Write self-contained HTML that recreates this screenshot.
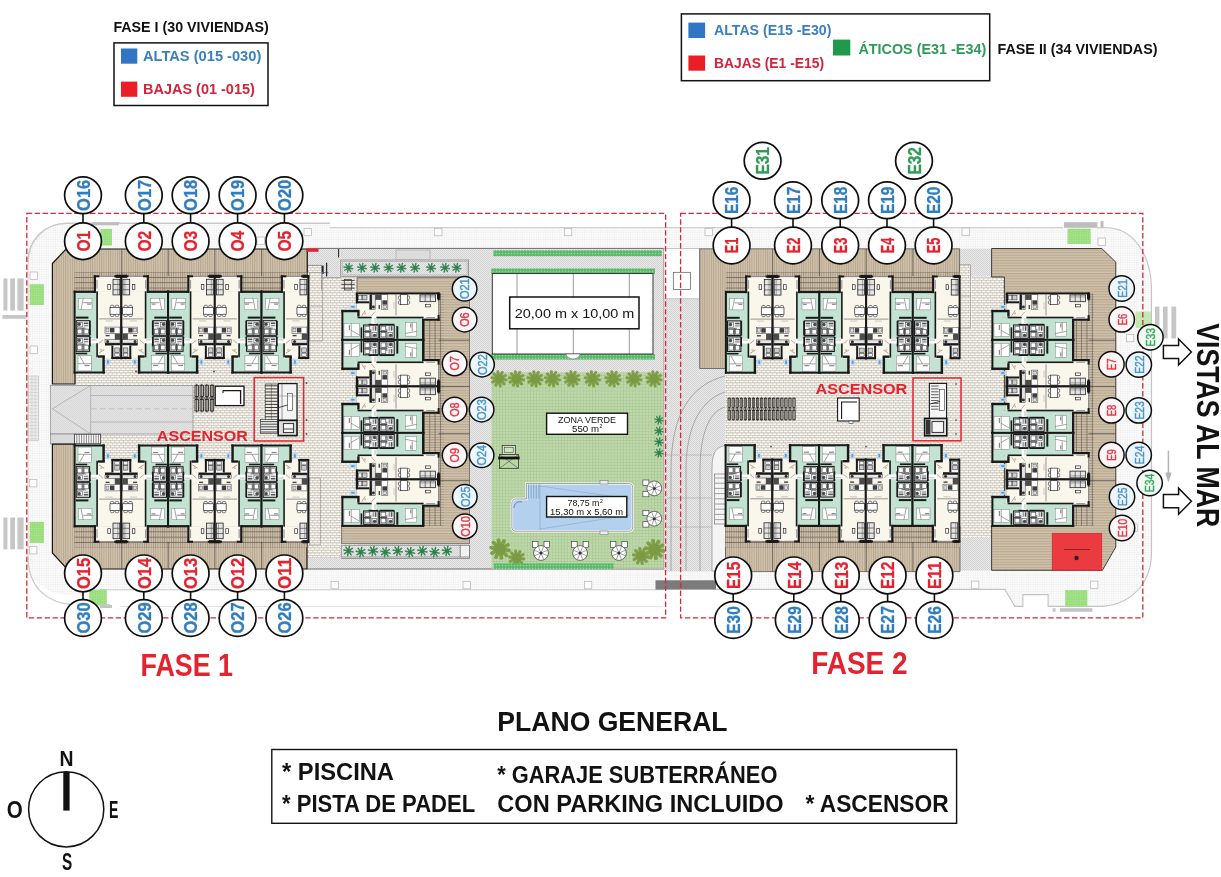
<!DOCTYPE html>
<html lang="es"><head><meta charset="utf-8"><title>Plano general</title>
<style>html,body{margin:0;padding:0;background:#fff}svg{display:block}text{font-family:"Liberation Sans", sans-serif}</style></head><body>
<svg width="1221" height="877" viewBox="0 0 1221 877">
<rect width="1221" height="877" fill="#fff"/>
<defs>
<pattern id="pgrid" width="2.3" height="2.3" patternUnits="userSpaceOnUse"><rect width="2.3" height="2.3" fill="#FCFCFC"/><path d="M0 0H2.3M0 0V2.3" stroke="#DCDCDC" stroke-width="0.4" fill="none"/></pattern>
<pattern id="pdot" width="2" height="2" patternUnits="userSpaceOnUse"><rect width="2" height="2" fill="#E9E9E9"/><rect width="1" height="1" fill="#D3D3D3"/><rect x="1" y="1" width="1" height="1" fill="#D3D3D3"/></pattern>
<pattern id="brick" width="4.4" height="5" patternUnits="userSpaceOnUse"><rect width="4.4" height="5" fill="#FBF9F3"/><path d="M0 0.3H4.4M0 2.8H4.4M0.3 0V2.8M2.5 2.8V5" stroke="#ABA497" stroke-width="0.55" fill="none"/></pattern>
<pattern id="deckv" width="2.25" height="4" patternUnits="userSpaceOnUse"><rect width="2.25" height="4" fill="#D0C1AB"/><path d="M0.5 0V4" stroke="#B3A38C" stroke-width="0.8"/></pattern>
<pattern id="deckh" width="4" height="2.6" patternUnits="userSpaceOnUse"><rect width="4" height="2.6" fill="#D0C1AB"/><path d="M0 0.6H4" stroke="#B3A38C" stroke-width="0.9"/></pattern>
<pattern id="perg" width="2.25" height="5.3" patternUnits="userSpaceOnUse" patternTransform="translate(0 1.4)"><rect width="2.25" height="5.3" fill="#CFC0AA"/><path d="M0.5 0V5.3" stroke="#8E8373" stroke-width="0.7" fill="none"/><path d="M0 0.4H2.25" stroke="#6F6558" stroke-width="0.8" fill="none"/></pattern>
<pattern id="perg2" width="5.3" height="2.6" patternUnits="userSpaceOnUse"><rect width="5.3" height="2.6" fill="#CFC0AA"/><path d="M0 0.5H5.3" stroke="#8E8373" stroke-width="0.7" fill="none"/><path d="M0.4 0V2.6" stroke="#6F6558" stroke-width="0.8" fill="none"/></pattern>
<pattern id="ggrid" width="3.1" height="3.1" patternUnits="userSpaceOnUse"><rect width="3.1" height="3.1" fill="#BDD8A9"/><path d="M0 0.3H3.1M0.3 0V3.1" stroke="#A6C491" stroke-width="0.55" fill="none"/></pattern>
<pattern id="ramp" width="2" height="2" patternUnits="userSpaceOnUse"><rect width="2" height="2" fill="#E4E4E4"/><rect width="1" height="1" fill="#D8D8D8"/><rect x="1" y="1" width="1" height="1" fill="#D8D8D8"/></pattern>
<pattern id="hedge" width="3" height="3" patternUnits="userSpaceOnUse"><rect width="3" height="3" fill="#58B868"/><rect x="0.8" y="0.8" width="1.4" height="1.4" fill="#8EDC9C"/></pattern>
<pattern id="gtile" width="2.4" height="2.4" patternUnits="userSpaceOnUse"><rect width="2.4" height="2.4" fill="#97DC7A"/><path d="M0 0H2.4M0 0V2.4" stroke="#B9EBA3" stroke-width="0.5" fill="none"/></pattern>
<g id="unit">
<rect x="0.00" y="15.40" width="22.40" height="80.80" fill="#C3E3D2" />
<rect x="22.40" y="79.40" width="6.80" height="16.80" fill="#C3E3D2" />
<rect x="19.60" y="0.00" width="27.14" height="15.60" fill="#F9F6EB" />
<rect x="22.40" y="15.40" width="24.34" height="66.60" fill="#F9F6EB" />
<rect x="3.80" y="22.00" width="13.60" height="11.40" fill="#fff" stroke="#666" stroke-width="0.4" />
<line x1="8.60" y1="22.00" x2="6.40" y2="33.40" stroke="#333" stroke-width="0.45" />
<line x1="8.60" y1="26.40" x2="17.40" y2="26.40" stroke="#444" stroke-width="0.55" />
<rect x="12.50" y="27.20" width="4.00" height="1.20" fill="#888" />
<rect x="1.20" y="40.30" width="12.60" height="2.00" fill="#181818" />
<rect x="1.60" y="44.40" width="13.40" height="14.60" fill="#F1F4F7" stroke="#181818" stroke-width="1.05" />
<rect x="3.00" y="46.00" width="4.60" height="4.60" fill="#fff" stroke="#333" stroke-width="0.5" />
<circle cx="4.6" cy="48.0" r="1.7" fill="#4a4a4a"/>
<rect x="9.20" y="46.20" width="4.60" height="1.60" fill="#555" />
<rect x="9.20" y="48.80" width="4.60" height="1.20" fill="#888" />
<rect x="3.00" y="52.80" width="4.40" height="4.80" fill="#fff" stroke="#333" stroke-width="0.6" />
<rect x="9.40" y="52.80" width="4.40" height="4.80" fill="#fff" stroke="#333" stroke-width="0.6" />
<line x1="8.40" y1="51.80" x2="8.40" y2="59.00" stroke="#181818" stroke-width="0.8" />
<line x1="1.60" y1="51.80" x2="11.00" y2="51.80" stroke="#181818" stroke-width="0.6" />
<rect x="1.60" y="60.40" width="13.40" height="14.60" fill="#F1F4F7" stroke="#181818" stroke-width="1.05" />
<rect x="3.00" y="62.00" width="4.60" height="4.60" fill="#fff" stroke="#333" stroke-width="0.5" />
<circle cx="4.6" cy="64.0" r="1.7" fill="#4a4a4a"/>
<rect x="9.20" y="62.20" width="4.60" height="1.60" fill="#555" />
<rect x="9.20" y="64.80" width="4.60" height="1.20" fill="#888" />
<rect x="3.00" y="68.80" width="4.40" height="4.80" fill="#fff" stroke="#333" stroke-width="0.6" />
<rect x="9.40" y="68.80" width="4.40" height="4.80" fill="#fff" stroke="#333" stroke-width="0.6" />
<line x1="8.40" y1="67.80" x2="8.40" y2="75.00" stroke="#181818" stroke-width="0.8" />
<line x1="1.60" y1="67.80" x2="11.00" y2="67.80" stroke="#181818" stroke-width="0.6" />
<rect x="14.60" y="44.40" width="1.60" height="14.60" fill="#181818" />
<rect x="14.60" y="60.40" width="1.60" height="9.60" fill="#181818" />
<rect x="3.40" y="79.40" width="13.20" height="15.20" fill="#fff" stroke="#666" stroke-width="0.4" />
<line x1="3.40" y1="87.40" x2="16.60" y2="87.40" stroke="#666" stroke-width="0.6" />
<line x1="5.00" y1="79.40" x2="9.60" y2="87.40" stroke="#333" stroke-width="0.45" />
<rect x="1.20" y="76.40" width="11.40" height="1.60" fill="#181818" />
<rect x="10.00" y="88.60" width="5.00" height="1.20" fill="#888" />
<rect x="38.40" y="3.00" width="6.80" height="15.60" fill="#E4E4E4" stroke="#181818" stroke-width="0.75" />
<line x1="38.40" y1="8.20" x2="45.20" y2="8.20" stroke="#181818" stroke-width="0.55" />
<line x1="38.40" y1="13.40" x2="45.20" y2="13.40" stroke="#181818" stroke-width="0.55" />
<line x1="43.20" y1="3.00" x2="43.20" y2="18.60" stroke="#555" stroke-width="0.5" />
<rect x="33.20" y="8.20" width="2.60" height="4.80" fill="#fff" stroke="#181818" stroke-width="0.65" />
<rect x="35.40" y="31.20" width="10.00" height="6.80" fill="#fff" stroke="#181818" stroke-width="0.65" />
<rect x="35.90" y="29.00" width="3.40" height="2.20" fill="#fff" stroke="#181818" stroke-width="0.55" rx="0.9"/>
<rect x="35.90" y="38.00" width="3.40" height="2.20" fill="#fff" stroke="#181818" stroke-width="0.55" rx="0.9"/>
<rect x="40.70" y="29.00" width="3.40" height="2.20" fill="#fff" stroke="#181818" stroke-width="0.55" rx="0.9"/>
<rect x="40.70" y="38.00" width="3.40" height="2.20" fill="#fff" stroke="#181818" stroke-width="0.55" rx="0.9"/>
<line x1="24.50" y1="42.60" x2="45.50" y2="42.60" stroke="#444" stroke-width="0.55" />
<line x1="31.00" y1="44.60" x2="38.00" y2="44.60" stroke="#999" stroke-width="0.5" />
<rect x="30.40" y="50.80" width="15.00" height="6.40" fill="#fff" stroke="#444" stroke-width="0.55" />
<rect x="35.40" y="51.60" width="4.40" height="4.60" fill="#3d3d3d" />
<rect x="31.40" y="52.00" width="3.00" height="3.60" fill="#ddd" stroke="#444" stroke-width="0.45" />
<rect x="31.00" y="58.60" width="4.00" height="1.40" fill="#444" />
<rect x="30.40" y="63.40" width="15.00" height="3.40" fill="#E6E6E6" stroke="#444" stroke-width="0.55" />
<circle cx="33" cy="65.2" r="1.5" fill="#333"/>
<rect x="30.40" y="66.80" width="15.40" height="2.40" fill="#181818" />
<rect x="40.20" y="57.40" width="5.60" height="6.00" fill="#4a4a4a" />
<rect x="37.20" y="69.20" width="9.54" height="12.80" fill="#fff" />
<rect x="36.80" y="69.20" width="2.00" height="13.40" fill="#181818" />
<rect x="36.80" y="80.60" width="9.94" height="2.20" fill="#181818" />
<rect x="40.20" y="71.60" width="4.60" height="4.60" fill="#ccc" stroke="#333" stroke-width="0.55" />
<rect x="40.20" y="76.80" width="4.60" height="3.20" fill="#eee" stroke="#333" stroke-width="0.55" />
<rect x="16.20" y="62.20" width="7.80" height="4.80" fill="#fff" />
<line x1="16.80" y1="63.60" x2="22.00" y2="63.60" stroke="#777" stroke-width="0.5" />
<line x1="24.20" y1="67.20" x2="28.40" y2="63.60" stroke="#666" stroke-width="0.5" />
<line x1="24.40" y1="76.80" x2="29.60" y2="73.40" stroke="#555" stroke-width="0.5" />
<rect x="25.60" y="72.80" width="2.00" height="1.40" fill="#E9A58D" />
<rect x="31.40" y="82.60" width="3.80" height="6.40" fill="#BFDDF2" />
<rect x="32.40" y="84.00" width="1.80" height="3.40" fill="#5B9BD5" />
<rect x="-1.00" y="14.40" width="2.00" height="82.80" fill="#181818" />
<rect x="-1.00" y="14.40" width="22.00" height="2.20" fill="#181818" />
<rect x="19.20" y="-1.00" width="2.20" height="17.60" fill="#181818" />
<rect x="19.20" y="-1.00" width="5.80" height="2.00" fill="#181818" />
<rect x="25.00" y="-0.60" width="14.60" height="1.20" fill="#8c8c8c" />
<rect x="39.60" y="-1.00" width="8.14" height="2.00" fill="#181818" />
<rect x="45.74" y="-1.00" width="2.00" height="83.80" fill="#181818" />
<rect x="21.70" y="15.00" width="1.60" height="47.20" fill="#181818" />
<rect x="21.70" y="67.00" width="1.60" height="14.00" fill="#181818" />
<rect x="-1.00" y="95.20" width="31.20" height="2.00" fill="#181818" />
<rect x="27.80" y="80.20" width="2.40" height="17.00" fill="#181818" />
<rect x="23.40" y="79.00" width="6.80" height="2.40" fill="#181818" />
<rect x="21.80" y="3.60" width="1.20" height="8.80" fill="#9a9a9a" />
<rect x="41.00" y="-1.60" width="5.74" height="3.20" fill="#181818" />
</g>
<g id="palm"><path d="M0 0L5.10 1.03" stroke="#3B8A57" stroke-width="1.7" stroke-linecap="round"/><path d="M0 0L2.87 4.33" stroke="#3B8A57" stroke-width="1.7" stroke-linecap="round"/><path d="M0 0L-1.03 5.10" stroke="#3B8A57" stroke-width="1.7" stroke-linecap="round"/><path d="M0 0L-4.33 2.87" stroke="#3B8A57" stroke-width="1.7" stroke-linecap="round"/><path d="M0 0L-5.10 -1.03" stroke="#3B8A57" stroke-width="1.7" stroke-linecap="round"/><path d="M0 0L-2.87 -4.33" stroke="#3B8A57" stroke-width="1.7" stroke-linecap="round"/><path d="M0 0L1.03 -5.10" stroke="#3B8A57" stroke-width="1.7" stroke-linecap="round"/><path d="M0 0L4.33 -2.87" stroke="#3B8A57" stroke-width="1.7" stroke-linecap="round"/><circle r="2.2" fill="#2F7F4C"/></g>
<g id="bush"><path d="M0 0L7.12 1.08" stroke="#7F9F46" stroke-width="3" stroke-linecap="round"/><path d="M0 0L5.13 5.05" stroke="#7F9F46" stroke-width="3" stroke-linecap="round"/><path d="M0 0L1.18 7.10" stroke="#7F9F46" stroke-width="3" stroke-linecap="round"/><path d="M0 0L-3.22 6.44" stroke="#7F9F46" stroke-width="3" stroke-linecap="round"/><path d="M0 0L-6.39 3.31" stroke="#7F9F46" stroke-width="3" stroke-linecap="round"/><path d="M0 0L-7.12 -1.08" stroke="#7F9F46" stroke-width="3" stroke-linecap="round"/><path d="M0 0L-5.13 -5.05" stroke="#7F9F46" stroke-width="3" stroke-linecap="round"/><path d="M0 0L-1.18 -7.10" stroke="#7F9F46" stroke-width="3" stroke-linecap="round"/><path d="M0 0L3.22 -6.44" stroke="#7F9F46" stroke-width="3" stroke-linecap="round"/><path d="M0 0L6.39 -3.31" stroke="#7F9F46" stroke-width="3" stroke-linecap="round"/><circle r="4.4" fill="#7A9A42"/></g>
<g id="umb"><rect x="-8.4" y="-11.4" width="5.4" height="6" fill="#fff" stroke="#333" stroke-width="0.6"/><rect x="3" y="-11.4" width="5.4" height="6" fill="#fff" stroke="#333" stroke-width="0.6"/><circle r="7.4" fill="#fff" stroke="#333" stroke-width="0.7"/><path d="M0 0L6.66 2.74" stroke="#444" stroke-width="0.5"/><path d="M0 0L2.77 6.64" stroke="#444" stroke-width="0.5"/><path d="M0 0L-2.74 6.66" stroke="#444" stroke-width="0.5"/><path d="M0 0L-6.64 2.77" stroke="#444" stroke-width="0.5"/><path d="M0 0L-6.66 -2.74" stroke="#444" stroke-width="0.5"/><path d="M0 0L-2.77 -6.64" stroke="#444" stroke-width="0.5"/><path d="M0 0L2.74 -6.66" stroke="#444" stroke-width="0.5"/><path d="M0 0L6.64 -2.77" stroke="#444" stroke-width="0.5"/><circle r="1.5" fill="#333"/></g>
</defs>
<g opacity="0.995">
<path d="M28 262C28 240 45 223.2 67 223.2H330V227.6H663.8V590H100C60 603 28 590 28 556Z" fill="url(#pgrid)"/>
<path d="M663.8 227.6H1106C1134 227.6 1151.5 256 1151.5 290V552C1151.5 586 1128 606.4 1098.6 606.4H1048.1V594.6H1022.9V606.4H1014.8L1004.9 589.4H663.8Z" fill="url(#pgrid)"/>
<path d="M28 262C28 240 45 223.2 67 223.2H330" fill="none" stroke="#C9C9C9" stroke-width="1.6"/>
<path d="M330 227.6H1063" fill="none" stroke="#CFCFCF" stroke-width="1.3"/>
<path d="M1097 227.8H1106C1134 227.8 1151.5 256 1151.5 290V552C1151.5 586 1128 606.4 1098.6 606.4H1048.1V594.6H1022.9V606.4H1014.8L1004.9 589.4H716" fill="none" stroke="#C4C4C4" stroke-width="1.1"/>
<path d="M28 556C28 590 50 604 75 605H110" fill="none" stroke="#C9C9C9" stroke-width="1.3"/>
<line x1="120.00" y1="606.60" x2="663.00" y2="606.60" stroke="#DADADA" stroke-width="0.8" />
<line x1="28.00" y1="262.00" x2="28.00" y2="556.00" stroke="#D4D4D4" stroke-width="0.8" />
<line x1="100.00" y1="589.80" x2="663.80" y2="589.80" stroke="#BDBDBD" stroke-width="0.8" />
<rect x="307.50" y="248.40" width="356.30" height="320.60" fill="url(#pdot)" />
<rect x="663.80" y="298.80" width="36.20" height="272.70" fill="url(#pdot)" />
<rect x="958.60" y="248.70" width="33.00" height="28.30" fill="url(#pdot)" />
<rect x="959.00" y="537.00" width="32.60" height="33.50" fill="url(#pdot)" />
<rect x="663.80" y="248.40" width="35.90" height="50.40" fill="#fff" stroke="#AFAFAF" stroke-width="0.7" />
<rect x="673.30" y="272.30" width="17.30" height="17.10" fill="#fff" stroke="#555" stroke-width="0.7" />
<line x1="307.50" y1="248.40" x2="663.80" y2="248.40" stroke="#5c5c5c" stroke-width="0.9" />
<line x1="307.50" y1="569.00" x2="663.80" y2="569.00" stroke="#5c5c5c" stroke-width="0.9" />
<path d="M700 368.5H725.5V445.6C716 447 712 455 712 470V571.5H700Z" fill="url(#pdot)"/>
<path d="M671 571V470C671 415 690 385 725 376" fill="none" stroke="#8E8E8E" stroke-width="0.7"/>
<path d="M686 571V470C686 428 700 400 725 392" fill="none" stroke="#8E8E8E" stroke-width="0.7"/>
<path d="M700 571V470C700 436 708 412 725 407" fill="none" stroke="#8E8E8E" stroke-width="0.7"/>
<path d="M712 571V470C712 452 716 447 725.5 445.6V571.5Z" fill="#F4F4F4" stroke="#8E8E8E" stroke-width="0.7"/>
<line x1="667.00" y1="455.00" x2="712.00" y2="455.00" stroke="#9a9a9a" stroke-width="0.5" />
<line x1="667.00" y1="498.00" x2="712.00" y2="498.00" stroke="#9a9a9a" stroke-width="0.5" />
<line x1="667.00" y1="527.00" x2="712.00" y2="527.00" stroke="#9a9a9a" stroke-width="0.5" />
<line x1="715.00" y1="478.00" x2="725.00" y2="478.00" stroke="#666" stroke-width="0.6" />
<line x1="715.00" y1="483.20" x2="725.00" y2="483.20" stroke="#666" stroke-width="0.6" />
<line x1="715.00" y1="488.40" x2="725.00" y2="488.40" stroke="#666" stroke-width="0.6" />
<line x1="715.00" y1="493.60" x2="725.00" y2="493.60" stroke="#666" stroke-width="0.6" />
<line x1="715.00" y1="498.80" x2="725.00" y2="498.80" stroke="#666" stroke-width="0.6" />
<line x1="715.00" y1="504.00" x2="725.00" y2="504.00" stroke="#666" stroke-width="0.6" />
<line x1="715.00" y1="509.20" x2="725.00" y2="509.20" stroke="#666" stroke-width="0.6" />
<line x1="715.00" y1="514.40" x2="725.00" y2="514.40" stroke="#666" stroke-width="0.6" />
<line x1="715.00" y1="519.60" x2="725.00" y2="519.60" stroke="#666" stroke-width="0.6" />
<rect x="714.60" y="474.00" width="10.80" height="50.00" fill="none" stroke="#666" stroke-width="0.6" />
<rect x="75.00" y="356.00" width="266.00" height="106.00" fill="url(#brick)" />
<rect x="307.50" y="265.00" width="49.50" height="280.00" fill="url(#brick)" />
<rect x="307.50" y="545.00" width="32.50" height="13.00" fill="url(#brick)" />
<rect x="725.50" y="356.00" width="278.90" height="106.00" fill="url(#brick)" />
<rect x="971.60" y="276.50" width="33.80" height="260.50" fill="url(#brick)" />
<rect x="959.00" y="328.00" width="13.00" height="209.00" fill="url(#brick)" />
<rect x="321.50" y="264.60" width="19.50" height="13.20" fill="url(#pdot)" />
<line x1="308.30" y1="265.40" x2="321.50" y2="265.40" stroke="#666" stroke-width="0.6" />
<line x1="321.50" y1="277.80" x2="341.00" y2="277.80" stroke="#666" stroke-width="0.6" />
<line x1="321.50" y1="265.40" x2="321.50" y2="290.00" stroke="#777" stroke-width="0.6" />
<rect x="321.80" y="265.60" width="1.80" height="8.40" fill="#222" />
<line x1="326.60" y1="262.80" x2="326.60" y2="276.60" stroke="#222" stroke-width="1.2" />
<line x1="322.00" y1="272.60" x2="328.40" y2="272.60" stroke="#333" stroke-width="0.6" />
<line x1="338.60" y1="249.00" x2="338.60" y2="257.40" stroke="#222" stroke-width="1.0" />
<line x1="341.50" y1="280.40" x2="354.60" y2="280.40" stroke="#222" stroke-width="0.8" />
<line x1="341.50" y1="284.40" x2="354.60" y2="284.40" stroke="#222" stroke-width="0.8" />
<line x1="341.50" y1="288.20" x2="354.60" y2="288.20" stroke="#222" stroke-width="0.8" />
<rect x="344.50" y="279.40" width="7.10" height="10.60" fill="none" stroke="#333" stroke-width="0.7" />
<rect x="959.20" y="264.80" width="11.40" height="63.20" fill="url(#brick)" stroke="#8a8a8a" stroke-width="0.6" />
<line x1="959.20" y1="296.00" x2="970.60" y2="296.00" stroke="#8a8a8a" stroke-width="0.5" />
<rect x="309.60" y="272.60" width="13.00" height="68.40" fill="none" stroke="#8f8f8f" stroke-width="0.6" />
<line x1="309.60" y1="306.00" x2="322.60" y2="306.00" stroke="#8f8f8f" stroke-width="0.5" />
<rect x="309.60" y="478.00" width="11.00" height="67.00" fill="none" stroke="#8f8f8f" stroke-width="0.6" />
<rect x="50.30" y="385.40" width="142.70" height="48.60" fill="url(#ramp)" stroke="#8C8C8C" stroke-width="0.7" />
<path d="M52.4 408.8L90.7 385.4M52.4 408.8L90.7 434M90.7 385.4V434M90.7 395.5H193M90.7 422H193" fill="none" stroke="#9A9A9A" stroke-width="0.6"/>
<line x1="90.70" y1="408.80" x2="193.00" y2="408.80" stroke="#A5A5A5" stroke-width="0.5" stroke-dasharray="6 3"/>
<rect x="28.60" y="376.00" width="10.00" height="64.80" fill="#EDEDED" stroke="#BEBEBE" stroke-width="0.6" />
<line x1="28.60" y1="379.30" x2="38.60" y2="379.30" stroke="#C4C4C4" stroke-width="0.5" />
<line x1="28.60" y1="382.60" x2="38.60" y2="382.60" stroke="#C4C4C4" stroke-width="0.5" />
<line x1="28.60" y1="385.90" x2="38.60" y2="385.90" stroke="#C4C4C4" stroke-width="0.5" />
<line x1="28.60" y1="389.20" x2="38.60" y2="389.20" stroke="#C4C4C4" stroke-width="0.5" />
<line x1="28.60" y1="392.50" x2="38.60" y2="392.50" stroke="#C4C4C4" stroke-width="0.5" />
<line x1="28.60" y1="395.80" x2="38.60" y2="395.80" stroke="#C4C4C4" stroke-width="0.5" />
<line x1="28.60" y1="399.10" x2="38.60" y2="399.10" stroke="#C4C4C4" stroke-width="0.5" />
<line x1="28.60" y1="402.40" x2="38.60" y2="402.40" stroke="#C4C4C4" stroke-width="0.5" />
<line x1="28.60" y1="405.70" x2="38.60" y2="405.70" stroke="#C4C4C4" stroke-width="0.5" />
<line x1="28.60" y1="409.00" x2="38.60" y2="409.00" stroke="#C4C4C4" stroke-width="0.5" />
<line x1="28.60" y1="412.30" x2="38.60" y2="412.30" stroke="#C4C4C4" stroke-width="0.5" />
<line x1="28.60" y1="415.60" x2="38.60" y2="415.60" stroke="#C4C4C4" stroke-width="0.5" />
<line x1="28.60" y1="418.90" x2="38.60" y2="418.90" stroke="#C4C4C4" stroke-width="0.5" />
<line x1="28.60" y1="422.20" x2="38.60" y2="422.20" stroke="#C4C4C4" stroke-width="0.5" />
<line x1="28.60" y1="425.50" x2="38.60" y2="425.50" stroke="#C4C4C4" stroke-width="0.5" />
<line x1="28.60" y1="428.80" x2="38.60" y2="428.80" stroke="#C4C4C4" stroke-width="0.5" />
<line x1="28.60" y1="432.10" x2="38.60" y2="432.10" stroke="#C4C4C4" stroke-width="0.5" />
<line x1="28.60" y1="435.40" x2="38.60" y2="435.40" stroke="#C4C4C4" stroke-width="0.5" />
<line x1="28.60" y1="438.70" x2="38.60" y2="438.70" stroke="#C4C4C4" stroke-width="0.5" />
<line x1="31.90" y1="376.00" x2="31.90" y2="440.80" stroke="#C4C4C4" stroke-width="0.5" />
<line x1="35.20" y1="376.00" x2="35.20" y2="440.80" stroke="#C4C4C4" stroke-width="0.5" />
<rect x="50.30" y="434.00" width="24.70" height="10.00" fill="#D9D9D9" stroke="#777" stroke-width="0.6" />
<rect x="74.60" y="434.20" width="26.00" height="9.60" fill="#fff" stroke="#333" stroke-width="0.8" />
<line x1="76.80" y1="434.20" x2="76.80" y2="443.80" stroke="#333" stroke-width="0.6" />
<line x1="79.20" y1="434.20" x2="79.20" y2="443.80" stroke="#333" stroke-width="0.6" />
<line x1="81.60" y1="434.20" x2="81.60" y2="443.80" stroke="#333" stroke-width="0.6" />
<line x1="84.00" y1="434.20" x2="84.00" y2="443.80" stroke="#333" stroke-width="0.6" />
<line x1="86.40" y1="434.20" x2="86.40" y2="443.80" stroke="#333" stroke-width="0.6" />
<line x1="88.80" y1="434.20" x2="88.80" y2="443.80" stroke="#333" stroke-width="0.6" />
<line x1="91.20" y1="434.20" x2="91.20" y2="443.80" stroke="#333" stroke-width="0.6" />
<line x1="93.60" y1="434.20" x2="93.60" y2="443.80" stroke="#333" stroke-width="0.6" />
<line x1="96.00" y1="434.20" x2="96.00" y2="443.80" stroke="#333" stroke-width="0.6" />
<line x1="98.40" y1="434.20" x2="98.40" y2="443.80" stroke="#333" stroke-width="0.6" />
<path d="M52.4 263.5L66 249H307.3V292H75V384H52.4Z" fill="url(#deckv)" stroke="#151515" stroke-width="1.2"/>
<rect x="74.50" y="272.20" width="232.80" height="19.80" fill="url(#perg)" />
<path d="M52.4 444.2H75V526H307V569H67L52.4 553Z" fill="url(#deckv)" stroke="#151515" stroke-width="1.2"/>
<rect x="74.50" y="526.00" width="232.50" height="21.40" fill="url(#perg)" />
<path d="M357 277.6H469.5V543.6H341.6V526H357Z" fill="url(#deckh)" stroke="#555" stroke-width="0.7"/>
<rect x="421.00" y="293.00" width="23.00" height="233.00" fill="url(#perg2)" />
<path d="M699.7 248.8H959.6V292.5H725.9V368.5H699.7Z" fill="url(#deckv)" stroke="#555" stroke-width="0.8"/>
<rect x="725.90" y="272.20" width="233.70" height="20.30" fill="url(#perg)" />
<path d="M725.5 526H960V571.6H725.5Z" fill="url(#deckv)" stroke="#555" stroke-width="0.8"/>
<rect x="725.50" y="526.00" width="234.50" height="21.40" fill="url(#perg)" />
<path d="M991.6 248.5H1101.8L1115.8 262.2V547L1102.4 570.3H991.6V526H1004.4V277H991.6Z" fill="url(#deckh)" stroke="#2a2a2a" stroke-width="0.9"/>
<rect x="1071.00" y="293.40" width="23.00" height="232.60" fill="url(#perg2)" />
<rect x="1052.20" y="533.20" width="49.60" height="37.00" fill="#E93A3F" stroke="#C22" stroke-width="0.6" />
<circle cx="1076.5" cy="558" r="2.2" fill="#222"/>
<line x1="1064.00" y1="549.50" x2="1090.00" y2="549.50" stroke="#7a1518" stroke-width="0.8" />
<line x1="121.80" y1="249.00" x2="121.80" y2="276.00" stroke="#333" stroke-width="0.6" />
<line x1="121.80" y1="542.00" x2="121.80" y2="569.00" stroke="#333" stroke-width="0.6" />
<line x1="168.20" y1="249.00" x2="168.20" y2="276.00" stroke="#333" stroke-width="0.6" />
<line x1="168.20" y1="542.00" x2="168.20" y2="569.00" stroke="#333" stroke-width="0.6" />
<line x1="214.90" y1="249.00" x2="214.90" y2="276.00" stroke="#333" stroke-width="0.6" />
<line x1="214.90" y1="542.00" x2="214.90" y2="569.00" stroke="#333" stroke-width="0.6" />
<line x1="261.70" y1="249.00" x2="261.70" y2="276.00" stroke="#333" stroke-width="0.6" />
<line x1="261.70" y1="542.00" x2="261.70" y2="569.00" stroke="#333" stroke-width="0.6" />
<line x1="772.60" y1="248.80" x2="772.60" y2="276.00" stroke="#333" stroke-width="0.6" />
<line x1="772.60" y1="542.00" x2="772.60" y2="571.60" stroke="#333" stroke-width="0.6" />
<line x1="819.40" y1="248.80" x2="819.40" y2="276.00" stroke="#333" stroke-width="0.6" />
<line x1="819.40" y1="542.00" x2="819.40" y2="571.60" stroke="#333" stroke-width="0.6" />
<line x1="866.10" y1="248.80" x2="866.10" y2="276.00" stroke="#333" stroke-width="0.6" />
<line x1="866.10" y1="542.00" x2="866.10" y2="571.60" stroke="#333" stroke-width="0.6" />
<line x1="912.90" y1="248.80" x2="912.90" y2="276.00" stroke="#333" stroke-width="0.6" />
<line x1="912.90" y1="542.00" x2="912.90" y2="571.60" stroke="#333" stroke-width="0.6" />
<line x1="438.60" y1="340.20" x2="469.50" y2="340.20" stroke="#333" stroke-width="0.6" />
<line x1="1088.60" y1="340.20" x2="1115.90" y2="340.20" stroke="#333" stroke-width="0.6" />
<line x1="438.60" y1="386.50" x2="469.50" y2="386.50" stroke="#333" stroke-width="0.6" />
<line x1="1088.60" y1="386.50" x2="1115.90" y2="386.50" stroke="#333" stroke-width="0.6" />
<line x1="438.60" y1="433.70" x2="469.50" y2="433.70" stroke="#333" stroke-width="0.6" />
<line x1="1088.60" y1="433.70" x2="1115.90" y2="433.70" stroke="#333" stroke-width="0.6" />
<line x1="438.60" y1="480.40" x2="469.50" y2="480.40" stroke="#333" stroke-width="0.6" />
<line x1="1088.60" y1="480.40" x2="1115.90" y2="480.40" stroke="#333" stroke-width="0.6" />
<rect x="340.70" y="260.00" width="127.90" height="16.50" fill="url(#pdot)" stroke="#8E8E8E" stroke-width="0.8" />
<rect x="342.20" y="261.50" width="124.90" height="13.50" fill="none" stroke="#A5A5A5" stroke-width="0.6" />
<use href="#palm" transform="translate(348.4 267.8) scale(0.85)"/>
<use href="#palm" transform="translate(362 267.8) scale(0.85)"/>
<use href="#palm" transform="translate(375 267.8) scale(0.85)"/>
<use href="#palm" transform="translate(388.6 267.8) scale(0.85)"/>
<use href="#palm" transform="translate(401.5 267.8) scale(0.85)"/>
<use href="#palm" transform="translate(415 267.8) scale(0.85)"/>
<use href="#palm" transform="translate(431 267.8) scale(0.85)"/>
<use href="#palm" transform="translate(445 267.8) scale(0.85)"/>
<use href="#palm" transform="translate(456.6 267.8) scale(0.85)"/>
<rect x="341.30" y="545.30" width="118.90" height="11.70" fill="url(#pdot)" stroke="#8E8E8E" stroke-width="0.8" />
<use href="#palm" transform="translate(348.5 551.0) scale(0.9)"/>
<use href="#palm" transform="translate(360.8 552.2) scale(0.9)"/>
<use href="#palm" transform="translate(373.1 551.0) scale(0.9)"/>
<use href="#palm" transform="translate(385.4 552.2) scale(0.9)"/>
<use href="#palm" transform="translate(397.7 551.0) scale(0.9)"/>
<use href="#palm" transform="translate(410.0 552.2) scale(0.9)"/>
<use href="#palm" transform="translate(422.3 551.0) scale(0.9)"/>
<use href="#palm" transform="translate(434.6 552.2) scale(0.9)"/>
<use href="#palm" transform="translate(446.9 551.0) scale(0.9)"/>
<rect x="460.20" y="545.30" width="9.30" height="11.70" fill="#F2F2F2" stroke="#777" stroke-width="0.7" />
<line x1="341.30" y1="558.50" x2="469.50" y2="558.50" stroke="#777" stroke-width="0.7" />
<line x1="469.50" y1="545.00" x2="469.50" y2="558.50" stroke="#777" stroke-width="0.7" />
<rect x="396.00" y="250.00" width="34.00" height="9.50" fill="#DCDCDC" stroke="#999" stroke-width="0.5" />
<use href="#unit" transform="translate(74.60 276.30) scale(1 1)"/>
<use href="#unit" transform="translate(168.08 276.30) scale(-1 1)"/>
<use href="#unit" transform="translate(168.08 276.30) scale(1 1)"/>
<use href="#unit" transform="translate(261.56 276.30) scale(-1 1)"/>
<use href="#unit" transform="translate(261.56 276.30) scale(1 1)"/>
<use href="#unit" transform="translate(74.60 541.70) scale(1 -1)"/>
<use href="#unit" transform="translate(168.08 541.70) scale(-1 -1)"/>
<use href="#unit" transform="translate(168.08 541.70) scale(1 -1)"/>
<use href="#unit" transform="translate(261.56 541.70) scale(-1 -1)"/>
<use href="#unit" transform="translate(261.56 541.70) scale(1 -1)"/>
<use href="#unit" transform="translate(438.60 339.90) rotate(90) scale(-0.9949 1)"/>
<use href="#unit" transform="translate(438.60 339.90) rotate(90) scale(0.9949 1)"/>
<use href="#unit" transform="translate(438.60 432.90) rotate(90) scale(-0.9949 1)"/>
<use href="#unit" transform="translate(438.60 432.90) rotate(90) scale(0.9949 1)"/>
<use href="#unit" transform="translate(438.60 525.90) rotate(90) scale(-0.9949 1)"/>
<use href="#unit" transform="translate(725.90 276.50) scale(1 1)"/>
<use href="#unit" transform="translate(819.38 276.50) scale(-1 1)"/>
<use href="#unit" transform="translate(819.38 276.50) scale(1 1)"/>
<use href="#unit" transform="translate(912.86 276.50) scale(-1 1)"/>
<use href="#unit" transform="translate(912.86 276.50) scale(1 1)"/>
<use href="#unit" transform="translate(725.60 541.40) scale(1 -1)"/>
<use href="#unit" transform="translate(819.08 541.40) scale(-1 -1)"/>
<use href="#unit" transform="translate(819.08 541.40) scale(1 -1)"/>
<use href="#unit" transform="translate(912.56 541.40) scale(-1 -1)"/>
<use href="#unit" transform="translate(912.56 541.40) scale(1 -1)"/>
<use href="#unit" transform="translate(1088.60 339.90) rotate(90) scale(-0.9949 1)"/>
<use href="#unit" transform="translate(1088.60 339.90) rotate(90) scale(0.9949 1)"/>
<use href="#unit" transform="translate(1088.60 432.90) rotate(90) scale(-0.9949 1)"/>
<use href="#unit" transform="translate(1088.60 432.90) rotate(90) scale(0.9949 1)"/>
<use href="#unit" transform="translate(1088.60 525.90) rotate(90) scale(-0.9949 1)"/>
<rect x="493.30" y="250.30" width="168.60" height="5.90" fill="url(#hedge)" />
<rect x="491.30" y="268.40" width="163.70" height="5.40" fill="url(#hedge)" />
<rect x="491.30" y="354.00" width="163.70" height="5.60" fill="url(#hedge)" />
<rect x="492.30" y="273.60" width="160.70" height="80.40" fill="#fff" stroke="#222" stroke-width="0.9" />
<line x1="517.00" y1="273.60" x2="517.00" y2="354.00" stroke="#555" stroke-width="0.6" />
<line x1="573.30" y1="273.60" x2="573.30" y2="354.00" stroke="#555" stroke-width="0.6" />
<line x1="629.30" y1="273.60" x2="629.30" y2="354.00" stroke="#555" stroke-width="0.6" />
<path d="M566 354A7 5 0 0 0 580 354Z" fill="#fff" stroke="#666" stroke-width="0.6"/>
<rect x="509.70" y="297.00" width="129.30" height="31.80" fill="#fff" stroke="#111" stroke-width="1.5" />
<text x="574.60" y="318.20" font-size="13.4" font-weight="normal" fill="#111" text-anchor="middle" textLength="119.60" lengthAdjust="spacingAndGlyphs" style="mix-blend-mode:multiply">20,00 m x 10,00 m</text>
<rect x="491.50" y="372.40" width="172.10" height="196.20" fill="url(#ggrid)" />
<line x1="663.60" y1="248.40" x2="663.60" y2="569.00" stroke="#9a9a9a" stroke-width="0.6" />
<use href="#bush" transform="translate(499 378.8)"/>
<use href="#bush" transform="translate(516.5 378.8)"/>
<use href="#bush" transform="translate(535 378.8)"/>
<use href="#bush" transform="translate(552.5 378.8)"/>
<use href="#bush" transform="translate(572 378.8)"/>
<use href="#bush" transform="translate(592.5 378.8)"/>
<use href="#bush" transform="translate(613 378.8)"/>
<use href="#bush" transform="translate(634 378.8)"/>
<use href="#bush" transform="translate(654 378.8)"/>
<use href="#palm" transform="translate(659 420) scale(0.8)"/>
<use href="#palm" transform="translate(659 431) scale(0.8)"/>
<use href="#palm" transform="translate(659 442) scale(0.8)"/>
<use href="#palm" transform="translate(659 453) scale(0.8)"/>
<use href="#bush" transform="translate(500 549) scale(1.25)"/>
<use href="#bush" transform="translate(516.7 558) scale(1.0)"/>
<use href="#bush" transform="translate(641 556) scale(1.05)"/>
<use href="#bush" transform="translate(654.5 549.5) scale(1.25)"/>
<rect x="494.00" y="563.40" width="119.60" height="5.60" fill="url(#hedge)" />
<rect x="546.60" y="413.20" width="80.90" height="21.10" fill="#fff" stroke="#111" stroke-width="1.4" />
<text x="587.00" y="422.80" font-size="8.6" font-weight="normal" fill="#111" text-anchor="middle" textLength="58.00" lengthAdjust="spacingAndGlyphs" >ZONA VERDE</text>
<text x="585.50" y="432.00" font-size="8.6" font-weight="normal" fill="#111" text-anchor="middle" textLength="27.00" lengthAdjust="spacingAndGlyphs" >550 m</text>
<text x="599.60" y="428.40" font-size="5" font-weight="normal" fill="#111" text-anchor="start" >2</text>
<rect x="499.50" y="454.50" width="19.00" height="13.80" fill="#B9D6A3" stroke="#222" stroke-width="0.7" />
<line x1="499.50" y1="454.50" x2="518.50" y2="468.30" stroke="#333" stroke-width="0.5" />
<line x1="518.50" y1="454.50" x2="499.50" y2="468.30" stroke="#333" stroke-width="0.5" />
<rect x="498.20" y="456.60" width="21.40" height="2.80" fill="#111" />
<rect x="502.20" y="445.60" width="13.20" height="8.90" fill="#CFE3BE" stroke="#222" stroke-width="0.7" />
<rect x="504.40" y="447.60" width="8.80" height="4.80" fill="none" stroke="#333" stroke-width="0.5" />
<path d="M526.3 483.6H628.5Q632.8 483.6 632.8 488V527Q632.8 531.2 628.5 531.2H516Q511.9 531.2 511.9 527V503.5Q511.9 499 516 499H526.3Z" fill="#B3D1EF" stroke="#fff" stroke-width="2.4"/>
<path d="M526.3 483.6H628.5Q632.8 483.6 632.8 488V527Q632.8 531.2 628.5 531.2H516Q511.9 531.2 511.9 527V503.5Q511.9 499 516 499H526.3Z" fill="none" stroke="#555" stroke-width="0.6"/>
<line x1="528.50" y1="484.50" x2="528.50" y2="498.50" stroke="#5F7FA8" stroke-width="0.5" />
<line x1="531.10" y1="484.50" x2="531.10" y2="498.50" stroke="#5F7FA8" stroke-width="0.5" />
<line x1="533.70" y1="484.50" x2="533.70" y2="498.50" stroke="#5F7FA8" stroke-width="0.5" />
<line x1="536.30" y1="484.50" x2="536.30" y2="498.50" stroke="#5F7FA8" stroke-width="0.5" />
<line x1="538.90" y1="484.50" x2="538.90" y2="498.50" stroke="#5F7FA8" stroke-width="0.5" />
<line x1="540.00" y1="484.50" x2="540.00" y2="530.00" stroke="#7D9CC4" stroke-width="0.5" />
<path d="M540 486L630 499M540 529L630 515" stroke="#7D9CC4" stroke-width="0.5" fill="none"/>
<path d="M514 508A6 6 0 0 1 522 502" stroke="#4466AA" stroke-width="0.7" fill="none"/>
<rect x="600.00" y="480.40" width="8.00" height="3.60" fill="#E8EEF2" stroke="#666" stroke-width="0.5" />
<rect x="600.00" y="531.00" width="8.00" height="3.60" fill="#E8EEF2" stroke="#666" stroke-width="0.5" />
<rect x="546.60" y="496.50" width="80.20" height="20.50" fill="#fff" stroke="#111" stroke-width="1.4" />
<text x="583.50" y="506.40" font-size="8.6" font-weight="normal" fill="#111" text-anchor="middle" textLength="32.00" lengthAdjust="spacingAndGlyphs" >78,75 m</text>
<text x="600.00" y="502.60" font-size="5" font-weight="normal" fill="#111" text-anchor="start" >2</text>
<text x="586.60" y="515.40" font-size="8.6" font-weight="normal" fill="#111" text-anchor="middle" textLength="73.00" lengthAdjust="spacingAndGlyphs" >15,30 m x 5,60 m</text>
<use href="#umb" transform="translate(654.3 488.4) rotate(-90)"/>
<use href="#umb" transform="translate(654.3 518.7) rotate(-90)"/>
<use href="#umb" transform="translate(541 553)"/>
<use href="#umb" transform="translate(580.1 553)"/>
<use href="#umb" transform="translate(618.9 553)"/>
<rect x="195.00" y="385.20" width="3.40" height="11.30" fill="#E4E0D5" stroke="#151515" stroke-width="0.8" />
<rect x="195.00" y="399.50" width="3.40" height="11.50" fill="#E4E0D5" stroke="#151515" stroke-width="0.8" />
<line x1="196.70" y1="383.80" x2="196.70" y2="412.40" stroke="#151515" stroke-width="0.8" />
<rect x="200.10" y="385.20" width="3.40" height="11.30" fill="#E4E0D5" stroke="#151515" stroke-width="0.8" />
<rect x="200.10" y="399.50" width="3.40" height="11.50" fill="#E4E0D5" stroke="#151515" stroke-width="0.8" />
<line x1="201.80" y1="383.80" x2="201.80" y2="412.40" stroke="#151515" stroke-width="0.8" />
<rect x="205.20" y="385.20" width="3.40" height="11.30" fill="#E4E0D5" stroke="#151515" stroke-width="0.8" />
<rect x="205.20" y="399.50" width="3.40" height="11.50" fill="#E4E0D5" stroke="#151515" stroke-width="0.8" />
<line x1="206.90" y1="383.80" x2="206.90" y2="412.40" stroke="#151515" stroke-width="0.8" />
<rect x="210.30" y="385.20" width="3.40" height="11.30" fill="#E4E0D5" stroke="#151515" stroke-width="0.8" />
<rect x="210.30" y="399.50" width="3.40" height="11.50" fill="#E4E0D5" stroke="#151515" stroke-width="0.8" />
<line x1="212.00" y1="383.80" x2="212.00" y2="412.40" stroke="#151515" stroke-width="0.8" />
<line x1="193.60" y1="398.00" x2="215.00" y2="398.00" stroke="#151515" stroke-width="0.8" />
<rect x="215.20" y="386.20" width="28.80" height="19.40" fill="#fff" stroke="#151515" stroke-width="1.3" />
<path d="M223 390.6H240.6V404" fill="none" stroke="#151515" stroke-width="1.3"/>
<line x1="223.00" y1="390.60" x2="223.00" y2="393.00" stroke="#151515" stroke-width="1.1" />
<rect x="254.20" y="377.60" width="49.40" height="63.40" fill="none" stroke="#E3222E" stroke-width="1.5" />
<rect x="265.20" y="384.00" width="12.40" height="37.00" fill="#F1EDE2" stroke="#222" stroke-width="0.6" />
<line x1="265.20" y1="385.80" x2="277.60" y2="385.80" stroke="#222" stroke-width="0.9" />
<line x1="265.20" y1="388.90" x2="277.60" y2="388.90" stroke="#222" stroke-width="0.9" />
<line x1="265.20" y1="392.00" x2="277.60" y2="392.00" stroke="#222" stroke-width="0.9" />
<line x1="265.20" y1="395.10" x2="277.60" y2="395.10" stroke="#222" stroke-width="0.9" />
<line x1="265.20" y1="398.20" x2="277.60" y2="398.20" stroke="#222" stroke-width="0.9" />
<line x1="265.20" y1="401.30" x2="277.60" y2="401.30" stroke="#222" stroke-width="0.9" />
<line x1="265.20" y1="404.40" x2="277.60" y2="404.40" stroke="#222" stroke-width="0.9" />
<line x1="265.20" y1="407.50" x2="277.60" y2="407.50" stroke="#222" stroke-width="0.9" />
<line x1="265.20" y1="410.60" x2="277.60" y2="410.60" stroke="#222" stroke-width="0.9" />
<line x1="265.20" y1="413.70" x2="277.60" y2="413.70" stroke="#222" stroke-width="0.9" />
<line x1="265.20" y1="416.80" x2="277.60" y2="416.80" stroke="#222" stroke-width="0.9" />
<line x1="265.20" y1="419.90" x2="277.60" y2="419.90" stroke="#222" stroke-width="0.9" />
<line x1="271.40" y1="384.00" x2="271.40" y2="421.00" stroke="#444" stroke-width="0.5" />
<rect x="260.60" y="419.50" width="17.00" height="14.10" fill="#EEE" stroke="#222" stroke-width="0.6" />
<line x1="260.60" y1="421.60" x2="277.60" y2="421.60" stroke="#222" stroke-width="0.8" />
<line x1="260.60" y1="424.20" x2="277.60" y2="424.20" stroke="#222" stroke-width="0.8" />
<line x1="260.60" y1="426.80" x2="277.60" y2="426.80" stroke="#222" stroke-width="0.8" />
<line x1="260.60" y1="429.40" x2="277.60" y2="429.40" stroke="#222" stroke-width="0.8" />
<line x1="260.60" y1="432.00" x2="277.60" y2="432.00" stroke="#222" stroke-width="0.8" />
<rect x="278.40" y="383.60" width="18.60" height="36.80" fill="#F4F4F4" stroke="#151515" stroke-width="1.2" />
<rect x="287.60" y="393.50" width="5.00" height="17.00" fill="#fff" stroke="#333" stroke-width="0.6" />
<line x1="282.00" y1="383.60" x2="282.00" y2="420.40" stroke="#555" stroke-width="0.6" />
<line x1="278.40" y1="407.60" x2="287.60" y2="405.00" stroke="#222" stroke-width="0.8" />
<line x1="278.40" y1="396.00" x2="297.00" y2="396.00" stroke="#777" stroke-width="0.5" />
<rect x="278.20" y="420.40" width="18.80" height="15.20" fill="#DDD" stroke="#151515" stroke-width="1.6" />
<rect x="283.40" y="423.60" width="10.20" height="9.00" fill="#F6F6F6" stroke="#222" stroke-width="0.9" />
<line x1="284.00" y1="429.00" x2="293.00" y2="429.00" stroke="#222" stroke-width="0.8" />
<text x="156.80" y="440.60" font-size="14.8" font-weight="bold" fill="#E3222E" text-anchor="start" textLength="91.20" lengthAdjust="spacingAndGlyphs" >ASCENSOR</text>
<rect x="213.20" y="370.70" width="1.60" height="1.60" fill="#444" />
<rect x="135.20" y="370.70" width="1.60" height="1.60" fill="#444" />
<rect x="305.70" y="382.20" width="1.60" height="1.60" fill="#444" />
<rect x="305.70" y="419.20" width="1.60" height="1.60" fill="#444" />
<rect x="305.70" y="433.20" width="1.60" height="1.60" fill="#444" />
<rect x="728.00" y="398.20" width="2.40" height="9.40" fill="#E4E0D5" stroke="#151515" stroke-width="0.7" />
<rect x="728.00" y="410.40" width="2.40" height="9.40" fill="#E4E0D5" stroke="#151515" stroke-width="0.7" />
<line x1="729.20" y1="397.20" x2="729.20" y2="420.80" stroke="#151515" stroke-width="0.6" />
<rect x="732.05" y="398.20" width="2.40" height="9.40" fill="#E4E0D5" stroke="#151515" stroke-width="0.7" />
<rect x="732.05" y="410.40" width="2.40" height="9.40" fill="#E4E0D5" stroke="#151515" stroke-width="0.7" />
<line x1="733.25" y1="397.20" x2="733.25" y2="420.80" stroke="#151515" stroke-width="0.6" />
<rect x="736.10" y="398.20" width="2.40" height="9.40" fill="#E4E0D5" stroke="#151515" stroke-width="0.7" />
<rect x="736.10" y="410.40" width="2.40" height="9.40" fill="#E4E0D5" stroke="#151515" stroke-width="0.7" />
<line x1="737.30" y1="397.20" x2="737.30" y2="420.80" stroke="#151515" stroke-width="0.6" />
<rect x="740.15" y="398.20" width="2.40" height="9.40" fill="#E4E0D5" stroke="#151515" stroke-width="0.7" />
<rect x="740.15" y="410.40" width="2.40" height="9.40" fill="#E4E0D5" stroke="#151515" stroke-width="0.7" />
<line x1="741.35" y1="397.20" x2="741.35" y2="420.80" stroke="#151515" stroke-width="0.6" />
<rect x="744.20" y="398.20" width="2.40" height="9.40" fill="#E4E0D5" stroke="#151515" stroke-width="0.7" />
<rect x="744.20" y="410.40" width="2.40" height="9.40" fill="#E4E0D5" stroke="#151515" stroke-width="0.7" />
<line x1="745.40" y1="397.20" x2="745.40" y2="420.80" stroke="#151515" stroke-width="0.6" />
<rect x="748.25" y="398.20" width="2.40" height="9.40" fill="#E4E0D5" stroke="#151515" stroke-width="0.7" />
<rect x="748.25" y="410.40" width="2.40" height="9.40" fill="#E4E0D5" stroke="#151515" stroke-width="0.7" />
<line x1="749.45" y1="397.20" x2="749.45" y2="420.80" stroke="#151515" stroke-width="0.6" />
<rect x="752.30" y="398.20" width="2.40" height="9.40" fill="#E4E0D5" stroke="#151515" stroke-width="0.7" />
<rect x="752.30" y="410.40" width="2.40" height="9.40" fill="#E4E0D5" stroke="#151515" stroke-width="0.7" />
<line x1="753.50" y1="397.20" x2="753.50" y2="420.80" stroke="#151515" stroke-width="0.6" />
<rect x="756.35" y="398.20" width="2.40" height="9.40" fill="#E4E0D5" stroke="#151515" stroke-width="0.7" />
<rect x="756.35" y="410.40" width="2.40" height="9.40" fill="#E4E0D5" stroke="#151515" stroke-width="0.7" />
<line x1="757.55" y1="397.20" x2="757.55" y2="420.80" stroke="#151515" stroke-width="0.6" />
<rect x="760.40" y="398.20" width="2.40" height="9.40" fill="#E4E0D5" stroke="#151515" stroke-width="0.7" />
<rect x="760.40" y="410.40" width="2.40" height="9.40" fill="#E4E0D5" stroke="#151515" stroke-width="0.7" />
<line x1="761.60" y1="397.20" x2="761.60" y2="420.80" stroke="#151515" stroke-width="0.6" />
<rect x="764.45" y="398.20" width="2.40" height="9.40" fill="#E4E0D5" stroke="#151515" stroke-width="0.7" />
<rect x="764.45" y="410.40" width="2.40" height="9.40" fill="#E4E0D5" stroke="#151515" stroke-width="0.7" />
<line x1="765.65" y1="397.20" x2="765.65" y2="420.80" stroke="#151515" stroke-width="0.6" />
<rect x="768.50" y="398.20" width="2.40" height="9.40" fill="#E4E0D5" stroke="#151515" stroke-width="0.7" />
<rect x="768.50" y="410.40" width="2.40" height="9.40" fill="#E4E0D5" stroke="#151515" stroke-width="0.7" />
<line x1="769.70" y1="397.20" x2="769.70" y2="420.80" stroke="#151515" stroke-width="0.6" />
<rect x="772.55" y="398.20" width="2.40" height="9.40" fill="#E4E0D5" stroke="#151515" stroke-width="0.7" />
<rect x="772.55" y="410.40" width="2.40" height="9.40" fill="#E4E0D5" stroke="#151515" stroke-width="0.7" />
<line x1="773.75" y1="397.20" x2="773.75" y2="420.80" stroke="#151515" stroke-width="0.6" />
<rect x="776.60" y="398.20" width="2.40" height="9.40" fill="#E4E0D5" stroke="#151515" stroke-width="0.7" />
<rect x="776.60" y="410.40" width="2.40" height="9.40" fill="#E4E0D5" stroke="#151515" stroke-width="0.7" />
<line x1="777.80" y1="397.20" x2="777.80" y2="420.80" stroke="#151515" stroke-width="0.6" />
<rect x="780.65" y="398.20" width="2.40" height="9.40" fill="#E4E0D5" stroke="#151515" stroke-width="0.7" />
<rect x="780.65" y="410.40" width="2.40" height="9.40" fill="#E4E0D5" stroke="#151515" stroke-width="0.7" />
<line x1="781.85" y1="397.20" x2="781.85" y2="420.80" stroke="#151515" stroke-width="0.6" />
<rect x="784.70" y="398.20" width="2.40" height="9.40" fill="#E4E0D5" stroke="#151515" stroke-width="0.7" />
<rect x="784.70" y="410.40" width="2.40" height="9.40" fill="#E4E0D5" stroke="#151515" stroke-width="0.7" />
<line x1="785.90" y1="397.20" x2="785.90" y2="420.80" stroke="#151515" stroke-width="0.6" />
<rect x="788.75" y="398.20" width="2.40" height="9.40" fill="#E4E0D5" stroke="#151515" stroke-width="0.7" />
<rect x="788.75" y="410.40" width="2.40" height="9.40" fill="#E4E0D5" stroke="#151515" stroke-width="0.7" />
<line x1="789.95" y1="397.20" x2="789.95" y2="420.80" stroke="#151515" stroke-width="0.6" />
<rect x="792.80" y="398.20" width="2.40" height="9.40" fill="#E4E0D5" stroke="#151515" stroke-width="0.7" />
<rect x="792.80" y="410.40" width="2.40" height="9.40" fill="#E4E0D5" stroke="#151515" stroke-width="0.7" />
<line x1="794.00" y1="397.20" x2="794.00" y2="420.80" stroke="#151515" stroke-width="0.6" />
<line x1="727.00" y1="409.00" x2="796.50" y2="409.00" stroke="#151515" stroke-width="0.7" />
<rect x="837.60" y="398.00" width="21.60" height="23.00" fill="#fff" stroke="#151515" stroke-width="1.1" />
<path d="M841.6 419V402H857" fill="none" stroke="#151515" stroke-width="1.1"/>
<rect x="849.00" y="421.00" width="4.00" height="2.60" fill="#fff" stroke="#333" stroke-width="0.6" />
<rect x="913.00" y="378.00" width="48.00" height="62.80" fill="none" stroke="#E3222E" stroke-width="1.5" />
<rect x="929.40" y="383.40" width="17.20" height="35.20" fill="#F4F4F4" stroke="#151515" stroke-width="1.1" />
<line x1="931.00" y1="386.00" x2="938.60" y2="386.00" stroke="#222" stroke-width="0.7" />
<line x1="931.00" y1="388.90" x2="938.60" y2="388.90" stroke="#222" stroke-width="0.7" />
<line x1="931.00" y1="391.80" x2="938.60" y2="391.80" stroke="#222" stroke-width="0.7" />
<line x1="931.00" y1="394.70" x2="938.60" y2="394.70" stroke="#222" stroke-width="0.7" />
<line x1="931.00" y1="397.60" x2="938.60" y2="397.60" stroke="#222" stroke-width="0.7" />
<line x1="931.00" y1="400.50" x2="938.60" y2="400.50" stroke="#222" stroke-width="0.7" />
<line x1="931.00" y1="403.40" x2="938.60" y2="403.40" stroke="#222" stroke-width="0.7" />
<line x1="931.00" y1="406.30" x2="938.60" y2="406.30" stroke="#222" stroke-width="0.7" />
<line x1="931.00" y1="409.20" x2="938.60" y2="409.20" stroke="#222" stroke-width="0.7" />
<rect x="939.40" y="389.40" width="5.20" height="21.00" fill="#fff" stroke="#333" stroke-width="0.6" />
<line x1="930.00" y1="404.00" x2="940.00" y2="401.40" stroke="#222" stroke-width="0.8" />
<rect x="924.60" y="418.40" width="22.20" height="17.40" fill="#DDD" stroke="#151515" stroke-width="1.6" />
<rect x="932.00" y="421.60" width="11.60" height="10.80" fill="#F6F6F6" stroke="#222" stroke-width="0.9" />
<rect x="926.00" y="419.60" width="4.40" height="15.00" fill="#333" />
<text x="815.50" y="393.80" font-size="14.8" font-weight="bold" fill="#E3222E" text-anchor="start" textLength="91.80" lengthAdjust="spacingAndGlyphs" >ASCENSOR</text>
<rect x="955.30" y="383.30" width="1.40" height="1.40" fill="#444" />
<rect x="955.30" y="419.30" width="1.40" height="1.40" fill="#444" />
<rect x="955.30" y="433.30" width="1.40" height="1.40" fill="#444" />
<rect x="770.30" y="445.90" width="1.40" height="1.40" fill="#444" />
<rect x="865.30" y="445.90" width="1.40" height="1.40" fill="#444" />
<rect x="29.60" y="284.20" width="14.40" height="20.80" fill="url(#gtile)" />
<rect x="29.60" y="521.80" width="14.40" height="21.20" fill="url(#gtile)" />
<rect x="89.20" y="589.60" width="17.60" height="15.10" fill="url(#gtile)" />
<rect x="100.50" y="229.00" width="11.50" height="16.50" fill="url(#gtile)" />
<rect x="1067.50" y="228.70" width="23.20" height="15.30" fill="url(#gtile)" />
<rect x="1065.20" y="590.10" width="22.20" height="16.30" fill="url(#gtile)" />
<rect x="1135.40" y="311.50" width="15.60" height="16.50" fill="url(#gtile)" opacity="0.6"/>
<rect x="3.40" y="278.40" width="4.00" height="32.20" fill="#C6C6C6" />
<rect x="3.40" y="517.50" width="4.00" height="31.90" fill="#C6C6C6" />
<rect x="10.20" y="278.40" width="4.80" height="32.20" fill="#C6C6C6" />
<rect x="10.20" y="517.50" width="4.80" height="31.90" fill="#C6C6C6" />
<rect x="17.40" y="278.40" width="6.20" height="32.20" fill="#C6C6C6" />
<rect x="17.40" y="517.50" width="6.20" height="31.90" fill="#C6C6C6" />
<rect x="2.40" y="315.00" width="23.80" height="3.80" fill="#C6C6C6" />
<rect x="1155.00" y="306.60" width="4.40" height="31.80" fill="#C6C6C6" />
<rect x="1163.00" y="306.60" width="4.60" height="31.80" fill="#C6C6C6" />
<rect x="1171.40" y="306.60" width="4.80" height="31.80" fill="#C6C6C6" />
<rect x="1064.00" y="222.20" width="33.40" height="5.60" fill="#BDBDBD" />
<rect x="1100.50" y="221.00" width="3.00" height="6.80" fill="#BDBDBD" />
<rect x="1059.80" y="608.20" width="32.50" height="3.60" fill="#C4C4C4" />
<rect x="1052.60" y="608.20" width="3.00" height="3.60" fill="#C4C4C4" />
<rect x="100.00" y="605.00" width="12.00" height="3.00" fill="#C4C4C4" />
<rect x="92.00" y="222.20" width="27.00" height="3.00" fill="#BDBDBD" />
<rect x="655.50" y="580.30" width="60.50" height="9.30" fill="#7A7A7A" />
<rect x="30.00" y="272.00" width="7.40" height="7.40" fill="#FBFBFB" stroke="#B5B5B5" stroke-width="0.7" />
<rect x="30.00" y="346.00" width="7.40" height="7.40" fill="#FBFBFB" stroke="#B5B5B5" stroke-width="0.7" />
<rect x="29.50" y="479.50" width="7.40" height="7.40" fill="#FBFBFB" stroke="#B5B5B5" stroke-width="0.7" />
<rect x="29.50" y="546.50" width="7.40" height="7.40" fill="#FBFBFB" stroke="#B5B5B5" stroke-width="0.7" />
<rect x="149.00" y="230.00" width="7.40" height="7.40" fill="#FBFBFB" stroke="#B5B5B5" stroke-width="0.7" />
<rect x="257.00" y="237.00" width="7.40" height="7.40" fill="#FBFBFB" stroke="#B5B5B5" stroke-width="0.7" />
<rect x="304.00" y="228.40" width="7.40" height="7.40" fill="#FBFBFB" stroke="#B5B5B5" stroke-width="0.7" />
<rect x="434.60" y="228.40" width="7.40" height="7.40" fill="#FBFBFB" stroke="#B5B5B5" stroke-width="0.7" />
<rect x="564.40" y="228.40" width="7.40" height="7.40" fill="#FBFBFB" stroke="#B5B5B5" stroke-width="0.7" />
<rect x="331.00" y="581.40" width="7.40" height="7.40" fill="#FBFBFB" stroke="#B5B5B5" stroke-width="0.7" />
<rect x="463.00" y="581.40" width="7.40" height="7.40" fill="#FBFBFB" stroke="#B5B5B5" stroke-width="0.7" />
<rect x="584.40" y="581.40" width="7.40" height="7.40" fill="#FBFBFB" stroke="#B5B5B5" stroke-width="0.7" />
<rect x="705.00" y="228.40" width="7.40" height="7.40" fill="#FBFBFB" stroke="#B5B5B5" stroke-width="0.7" />
<rect x="962.00" y="228.00" width="7.40" height="7.40" fill="#FBFBFB" stroke="#B5B5B5" stroke-width="0.7" />
<rect x="1098.00" y="238.00" width="7.40" height="7.40" fill="#FBFBFB" stroke="#B5B5B5" stroke-width="0.7" />
<rect x="1126.40" y="334.40" width="7.40" height="7.40" fill="#FBFBFB" stroke="#B5B5B5" stroke-width="0.7" />
<rect x="1129.00" y="446.00" width="7.40" height="7.40" fill="#FBFBFB" stroke="#B5B5B5" stroke-width="0.7" />
<rect x="1130.00" y="524.00" width="7.40" height="7.40" fill="#FBFBFB" stroke="#B5B5B5" stroke-width="0.7" />
<rect x="1090.50" y="581.10" width="7.40" height="7.40" fill="#FBFBFB" stroke="#B5B5B5" stroke-width="0.7" />
<rect x="971.50" y="581.10" width="7.40" height="7.40" fill="#FBFBFB" stroke="#B5B5B5" stroke-width="0.7" />
<rect x="306.50" y="248.60" width="12.00" height="3.20" fill="#E3222E" />
<path d="M1168.4 450.6V474" stroke="#B5B5B5" stroke-width="1.5" fill="none"/>
<path d="M1165.2 472.5H1171.6L1168.4 482.4Z" fill="#B5B5B5"/>
<path d="M1163.4 345.4H1178.6V339L1191.4 352L1178.6 365V358.6H1163.4Z" fill="#fff" stroke="#111" stroke-width="1.5" stroke-linejoin="miter"/>
<path d="M1163.4 494.59999999999997H1178.6V488.2L1191.4 501.2L1178.6 514.2V507.8H1163.4Z" fill="#fff" stroke="#111" stroke-width="1.5" stroke-linejoin="miter"/>
<rect x="26.80" y="213.30" width="638.80" height="404.60" fill="none" stroke="#CF2A38" stroke-width="1.3" stroke-dasharray="5.4 2.5"/>
<rect x="680.60" y="213.30" width="462.20" height="404.60" fill="none" stroke="#CF2A38" stroke-width="1.3" stroke-dasharray="5.4 2.5"/>
<line x1="83.00" y1="213.00" x2="83.00" y2="224.00" stroke="#0d0d0d" stroke-width="1.6" />
<line x1="83.00" y1="590.00" x2="83.00" y2="600.00" stroke="#0d0d0d" stroke-width="1.6" />
<line x1="143.80" y1="213.00" x2="143.80" y2="224.00" stroke="#0d0d0d" stroke-width="1.6" />
<line x1="143.80" y1="590.00" x2="143.80" y2="600.00" stroke="#0d0d0d" stroke-width="1.6" />
<line x1="190.60" y1="213.00" x2="190.60" y2="224.00" stroke="#0d0d0d" stroke-width="1.6" />
<line x1="190.60" y1="590.00" x2="190.60" y2="600.00" stroke="#0d0d0d" stroke-width="1.6" />
<line x1="237.60" y1="213.00" x2="237.60" y2="224.00" stroke="#0d0d0d" stroke-width="1.6" />
<line x1="237.60" y1="590.00" x2="237.60" y2="600.00" stroke="#0d0d0d" stroke-width="1.6" />
<line x1="284.40" y1="213.00" x2="284.40" y2="224.00" stroke="#0d0d0d" stroke-width="1.6" />
<line x1="284.40" y1="590.00" x2="284.40" y2="600.00" stroke="#0d0d0d" stroke-width="1.6" />
<circle cx="83.0" cy="195.3" r="18.4" fill="#fff" stroke="#0d0d0d" stroke-width="1.7"/><text transform="translate(89.77 195.30) rotate(-90)" font-size="18.9" font-weight="bold" stroke="#2F7DBF" stroke-width="0.3" fill="#2F7DBF" text-anchor="middle" textLength="31.2" lengthAdjust="spacingAndGlyphs">O16</text>
<circle cx="83.0" cy="241.2" r="18.4" fill="#fff" stroke="#0d0d0d" stroke-width="1.7"/><text transform="translate(89.77 241.20) rotate(-90)" font-size="18.9" font-weight="bold" stroke="#E3222E" stroke-width="0.3" fill="#E3222E" text-anchor="middle" textLength="20.7" lengthAdjust="spacingAndGlyphs">O1</text>
<circle cx="83.0" cy="573.4" r="18.4" fill="#fff" stroke="#0d0d0d" stroke-width="1.7"/><text transform="translate(89.77 573.40) rotate(-90)" font-size="18.9" font-weight="bold" stroke="#E3222E" stroke-width="0.3" fill="#E3222E" text-anchor="middle" textLength="31.2" lengthAdjust="spacingAndGlyphs">O15</text>
<circle cx="83.0" cy="618.0" r="18.4" fill="#fff" stroke="#0d0d0d" stroke-width="1.7"/><text transform="translate(89.77 618.00) rotate(-90)" font-size="18.9" font-weight="bold" stroke="#2F7DBF" stroke-width="0.3" fill="#2F7DBF" text-anchor="middle" textLength="31.2" lengthAdjust="spacingAndGlyphs">O30</text>
<circle cx="143.8" cy="195.3" r="18.4" fill="#fff" stroke="#0d0d0d" stroke-width="1.7"/><text transform="translate(150.57 195.30) rotate(-90)" font-size="18.9" font-weight="bold" stroke="#2F7DBF" stroke-width="0.3" fill="#2F7DBF" text-anchor="middle" textLength="31.2" lengthAdjust="spacingAndGlyphs">O17</text>
<circle cx="143.8" cy="241.2" r="18.4" fill="#fff" stroke="#0d0d0d" stroke-width="1.7"/><text transform="translate(150.57 241.20) rotate(-90)" font-size="18.9" font-weight="bold" stroke="#E3222E" stroke-width="0.3" fill="#E3222E" text-anchor="middle" textLength="20.7" lengthAdjust="spacingAndGlyphs">O2</text>
<circle cx="143.8" cy="573.4" r="18.4" fill="#fff" stroke="#0d0d0d" stroke-width="1.7"/><text transform="translate(150.57 573.40) rotate(-90)" font-size="18.9" font-weight="bold" stroke="#E3222E" stroke-width="0.3" fill="#E3222E" text-anchor="middle" textLength="31.2" lengthAdjust="spacingAndGlyphs">O14</text>
<circle cx="143.8" cy="618.0" r="18.4" fill="#fff" stroke="#0d0d0d" stroke-width="1.7"/><text transform="translate(150.57 618.00) rotate(-90)" font-size="18.9" font-weight="bold" stroke="#2F7DBF" stroke-width="0.3" fill="#2F7DBF" text-anchor="middle" textLength="31.2" lengthAdjust="spacingAndGlyphs">O29</text>
<circle cx="190.6" cy="195.3" r="18.4" fill="#fff" stroke="#0d0d0d" stroke-width="1.7"/><text transform="translate(197.37 195.30) rotate(-90)" font-size="18.9" font-weight="bold" stroke="#2F7DBF" stroke-width="0.3" fill="#2F7DBF" text-anchor="middle" textLength="31.2" lengthAdjust="spacingAndGlyphs">O18</text>
<circle cx="190.6" cy="241.2" r="18.4" fill="#fff" stroke="#0d0d0d" stroke-width="1.7"/><text transform="translate(197.37 241.20) rotate(-90)" font-size="18.9" font-weight="bold" stroke="#E3222E" stroke-width="0.3" fill="#E3222E" text-anchor="middle" textLength="20.7" lengthAdjust="spacingAndGlyphs">O3</text>
<circle cx="190.6" cy="573.4" r="18.4" fill="#fff" stroke="#0d0d0d" stroke-width="1.7"/><text transform="translate(197.37 573.40) rotate(-90)" font-size="18.9" font-weight="bold" stroke="#E3222E" stroke-width="0.3" fill="#E3222E" text-anchor="middle" textLength="31.2" lengthAdjust="spacingAndGlyphs">O13</text>
<circle cx="190.6" cy="618.0" r="18.4" fill="#fff" stroke="#0d0d0d" stroke-width="1.7"/><text transform="translate(197.37 618.00) rotate(-90)" font-size="18.9" font-weight="bold" stroke="#2F7DBF" stroke-width="0.3" fill="#2F7DBF" text-anchor="middle" textLength="31.2" lengthAdjust="spacingAndGlyphs">O28</text>
<circle cx="237.6" cy="195.3" r="18.4" fill="#fff" stroke="#0d0d0d" stroke-width="1.7"/><text transform="translate(244.37 195.30) rotate(-90)" font-size="18.9" font-weight="bold" stroke="#2F7DBF" stroke-width="0.3" fill="#2F7DBF" text-anchor="middle" textLength="31.2" lengthAdjust="spacingAndGlyphs">O19</text>
<circle cx="237.6" cy="241.2" r="18.4" fill="#fff" stroke="#0d0d0d" stroke-width="1.7"/><text transform="translate(244.37 241.20) rotate(-90)" font-size="18.9" font-weight="bold" stroke="#E3222E" stroke-width="0.3" fill="#E3222E" text-anchor="middle" textLength="20.7" lengthAdjust="spacingAndGlyphs">O4</text>
<circle cx="237.6" cy="573.4" r="18.4" fill="#fff" stroke="#0d0d0d" stroke-width="1.7"/><text transform="translate(244.37 573.40) rotate(-90)" font-size="18.9" font-weight="bold" stroke="#E3222E" stroke-width="0.3" fill="#E3222E" text-anchor="middle" textLength="31.2" lengthAdjust="spacingAndGlyphs">O12</text>
<circle cx="237.6" cy="618.0" r="18.4" fill="#fff" stroke="#0d0d0d" stroke-width="1.7"/><text transform="translate(244.37 618.00) rotate(-90)" font-size="18.9" font-weight="bold" stroke="#2F7DBF" stroke-width="0.3" fill="#2F7DBF" text-anchor="middle" textLength="31.2" lengthAdjust="spacingAndGlyphs">O27</text>
<circle cx="284.4" cy="195.3" r="18.4" fill="#fff" stroke="#0d0d0d" stroke-width="1.7"/><text transform="translate(291.17 195.30) rotate(-90)" font-size="18.9" font-weight="bold" stroke="#2F7DBF" stroke-width="0.3" fill="#2F7DBF" text-anchor="middle" textLength="31.2" lengthAdjust="spacingAndGlyphs">O20</text>
<circle cx="284.4" cy="241.2" r="18.4" fill="#fff" stroke="#0d0d0d" stroke-width="1.7"/><text transform="translate(291.17 241.20) rotate(-90)" font-size="18.9" font-weight="bold" stroke="#E3222E" stroke-width="0.3" fill="#E3222E" text-anchor="middle" textLength="20.7" lengthAdjust="spacingAndGlyphs">O5</text>
<circle cx="284.4" cy="573.4" r="18.4" fill="#fff" stroke="#0d0d0d" stroke-width="1.7"/><text transform="translate(291.17 573.40) rotate(-90)" font-size="18.9" font-weight="bold" stroke="#E3222E" stroke-width="0.3" fill="#E3222E" text-anchor="middle" textLength="31.2" lengthAdjust="spacingAndGlyphs">O11</text>
<circle cx="284.4" cy="618.0" r="18.4" fill="#fff" stroke="#0d0d0d" stroke-width="1.7"/><text transform="translate(291.17 618.00) rotate(-90)" font-size="18.9" font-weight="bold" stroke="#2F7DBF" stroke-width="0.3" fill="#2F7DBF" text-anchor="middle" textLength="31.2" lengthAdjust="spacingAndGlyphs">O26</text>
<circle cx="464.6" cy="288.8" r="12.3" fill="#EDF6FC" stroke="#0d0d0d" stroke-width="1.5"/><text transform="translate(469.40 288.80) rotate(-90)" font-size="13.4" font-weight="normal" stroke="#4A94C8" stroke-width="0.45" fill="#4A94C8" text-anchor="middle" textLength="20.6" lengthAdjust="spacingAndGlyphs">O21</text>
<circle cx="464.6" cy="319.6" r="12.3" fill="#FEF6F6" stroke="#0d0d0d" stroke-width="1.5"/><text transform="translate(469.40 319.60) rotate(-90)" font-size="13.4" font-weight="normal" stroke="#DE3A48" stroke-width="0.45" fill="#DE3A48" text-anchor="middle" textLength="14.4" lengthAdjust="spacingAndGlyphs">O6</text>
<circle cx="454.6" cy="363.4" r="12.3" fill="#FEF6F6" stroke="#0d0d0d" stroke-width="1.5"/><text transform="translate(459.40 363.40) rotate(-90)" font-size="13.4" font-weight="normal" stroke="#DE3A48" stroke-width="0.45" fill="#DE3A48" text-anchor="middle" textLength="14.4" lengthAdjust="spacingAndGlyphs">O7</text>
<circle cx="482.0" cy="364.6" r="12.3" fill="#EDF6FC" stroke="#0d0d0d" stroke-width="1.5"/><text transform="translate(486.80 364.60) rotate(-90)" font-size="13.4" font-weight="normal" stroke="#4A94C8" stroke-width="0.45" fill="#4A94C8" text-anchor="middle" textLength="20.6" lengthAdjust="spacingAndGlyphs">O22</text>
<circle cx="454.6" cy="409.6" r="12.3" fill="#FEF6F6" stroke="#0d0d0d" stroke-width="1.5"/><text transform="translate(459.40 409.60) rotate(-90)" font-size="13.4" font-weight="normal" stroke="#DE3A48" stroke-width="0.45" fill="#DE3A48" text-anchor="middle" textLength="14.4" lengthAdjust="spacingAndGlyphs">O8</text>
<circle cx="481.6" cy="409.6" r="12.3" fill="#EDF6FC" stroke="#0d0d0d" stroke-width="1.5"/><text transform="translate(486.40 409.60) rotate(-90)" font-size="13.4" font-weight="normal" stroke="#4A94C8" stroke-width="0.45" fill="#4A94C8" text-anchor="middle" textLength="20.6" lengthAdjust="spacingAndGlyphs">O23</text>
<circle cx="454.6" cy="455.3" r="12.3" fill="#FEF6F6" stroke="#0d0d0d" stroke-width="1.5"/><text transform="translate(459.40 455.30) rotate(-90)" font-size="13.4" font-weight="normal" stroke="#DE3A48" stroke-width="0.45" fill="#DE3A48" text-anchor="middle" textLength="14.4" lengthAdjust="spacingAndGlyphs">O9</text>
<circle cx="481.6" cy="455.3" r="12.3" fill="#EDF6FC" stroke="#0d0d0d" stroke-width="1.5"/><text transform="translate(486.40 455.30) rotate(-90)" font-size="13.4" font-weight="normal" stroke="#4A94C8" stroke-width="0.45" fill="#4A94C8" text-anchor="middle" textLength="20.6" lengthAdjust="spacingAndGlyphs">O24</text>
<circle cx="464.8" cy="526.4" r="12.3" fill="#FEF6F6" stroke="#0d0d0d" stroke-width="1.5"/><text transform="translate(469.60 526.40) rotate(-90)" font-size="13.4" font-weight="normal" stroke="#DE3A48" stroke-width="0.45" fill="#DE3A48" text-anchor="middle" textLength="20.6" lengthAdjust="spacingAndGlyphs">O10</text>
<circle cx="464.8" cy="496.7" r="12.3" fill="#EDF6FC" stroke="#0d0d0d" stroke-width="1.5"/><text transform="translate(469.60 496.70) rotate(-90)" font-size="13.4" font-weight="normal" stroke="#4A94C8" stroke-width="0.45" fill="#4A94C8" text-anchor="middle" textLength="20.6" lengthAdjust="spacingAndGlyphs">O25</text>
<line x1="731.60" y1="218.00" x2="731.60" y2="228.00" stroke="#0d0d0d" stroke-width="1.6" />
<line x1="793.00" y1="218.00" x2="793.00" y2="228.00" stroke="#0d0d0d" stroke-width="1.6" />
<line x1="840.20" y1="218.00" x2="840.20" y2="228.00" stroke="#0d0d0d" stroke-width="1.6" />
<line x1="887.00" y1="218.00" x2="887.00" y2="228.00" stroke="#0d0d0d" stroke-width="1.6" />
<line x1="933.60" y1="218.00" x2="933.60" y2="228.00" stroke="#0d0d0d" stroke-width="1.6" />
<line x1="733.20" y1="592.00" x2="733.20" y2="603.00" stroke="#0d0d0d" stroke-width="1.6" />
<line x1="793.80" y1="592.00" x2="793.80" y2="603.00" stroke="#0d0d0d" stroke-width="1.6" />
<line x1="840.80" y1="592.00" x2="840.80" y2="603.00" stroke="#0d0d0d" stroke-width="1.6" />
<line x1="887.60" y1="592.00" x2="887.60" y2="603.00" stroke="#0d0d0d" stroke-width="1.6" />
<line x1="934.40" y1="592.00" x2="934.40" y2="603.00" stroke="#0d0d0d" stroke-width="1.6" />
<circle cx="762.6" cy="160.8" r="18.4" fill="#fff" stroke="#0d0d0d" stroke-width="1.7"/><text transform="translate(769.37 160.80) rotate(-90)" font-size="18.9" font-weight="bold" stroke="#2C9C55" stroke-width="0.3" fill="#2C9C55" text-anchor="middle" textLength="27.4" lengthAdjust="spacingAndGlyphs">E31</text>
<circle cx="914.0" cy="160.8" r="18.4" fill="#fff" stroke="#0d0d0d" stroke-width="1.7"/><text transform="translate(920.77 160.80) rotate(-90)" font-size="18.9" font-weight="bold" stroke="#2C9C55" stroke-width="0.3" fill="#2C9C55" text-anchor="middle" textLength="27.4" lengthAdjust="spacingAndGlyphs">E32</text>
<circle cx="731.6" cy="200.3" r="18.4" fill="#fff" stroke="#0d0d0d" stroke-width="1.7"/><text transform="translate(738.37 200.30) rotate(-90)" font-size="18.9" font-weight="bold" stroke="#2F7DBF" stroke-width="0.3" fill="#2F7DBF" text-anchor="middle" textLength="27.4" lengthAdjust="spacingAndGlyphs">E16</text>
<circle cx="731.6" cy="245.5" r="18.4" fill="#fff" stroke="#0d0d0d" stroke-width="1.7"/><text transform="translate(738.37 245.50) rotate(-90)" font-size="18.9" font-weight="bold" stroke="#E3222E" stroke-width="0.3" fill="#E3222E" text-anchor="middle" textLength="15.6" lengthAdjust="spacingAndGlyphs">E1</text>
<circle cx="793.0" cy="200.3" r="18.4" fill="#fff" stroke="#0d0d0d" stroke-width="1.7"/><text transform="translate(799.77 200.30) rotate(-90)" font-size="18.9" font-weight="bold" stroke="#2F7DBF" stroke-width="0.3" fill="#2F7DBF" text-anchor="middle" textLength="27.4" lengthAdjust="spacingAndGlyphs">E17</text>
<circle cx="793.0" cy="245.5" r="18.4" fill="#fff" stroke="#0d0d0d" stroke-width="1.7"/><text transform="translate(799.77 245.50) rotate(-90)" font-size="18.9" font-weight="bold" stroke="#E3222E" stroke-width="0.3" fill="#E3222E" text-anchor="middle" textLength="15.6" lengthAdjust="spacingAndGlyphs">E2</text>
<circle cx="840.2" cy="200.3" r="18.4" fill="#fff" stroke="#0d0d0d" stroke-width="1.7"/><text transform="translate(846.97 200.30) rotate(-90)" font-size="18.9" font-weight="bold" stroke="#2F7DBF" stroke-width="0.3" fill="#2F7DBF" text-anchor="middle" textLength="27.4" lengthAdjust="spacingAndGlyphs">E18</text>
<circle cx="840.2" cy="245.5" r="18.4" fill="#fff" stroke="#0d0d0d" stroke-width="1.7"/><text transform="translate(846.97 245.50) rotate(-90)" font-size="18.9" font-weight="bold" stroke="#E3222E" stroke-width="0.3" fill="#E3222E" text-anchor="middle" textLength="15.6" lengthAdjust="spacingAndGlyphs">E3</text>
<circle cx="887.0" cy="200.3" r="18.4" fill="#fff" stroke="#0d0d0d" stroke-width="1.7"/><text transform="translate(893.77 200.30) rotate(-90)" font-size="18.9" font-weight="bold" stroke="#2F7DBF" stroke-width="0.3" fill="#2F7DBF" text-anchor="middle" textLength="27.4" lengthAdjust="spacingAndGlyphs">E19</text>
<circle cx="887.0" cy="245.5" r="18.4" fill="#fff" stroke="#0d0d0d" stroke-width="1.7"/><text transform="translate(893.77 245.50) rotate(-90)" font-size="18.9" font-weight="bold" stroke="#E3222E" stroke-width="0.3" fill="#E3222E" text-anchor="middle" textLength="15.6" lengthAdjust="spacingAndGlyphs">E4</text>
<circle cx="933.6" cy="200.3" r="18.4" fill="#fff" stroke="#0d0d0d" stroke-width="1.7"/><text transform="translate(940.37 200.30) rotate(-90)" font-size="18.9" font-weight="bold" stroke="#2F7DBF" stroke-width="0.3" fill="#2F7DBF" text-anchor="middle" textLength="27.4" lengthAdjust="spacingAndGlyphs">E20</text>
<circle cx="933.6" cy="245.5" r="18.4" fill="#fff" stroke="#0d0d0d" stroke-width="1.7"/><text transform="translate(940.37 245.50) rotate(-90)" font-size="18.9" font-weight="bold" stroke="#E3222E" stroke-width="0.3" fill="#E3222E" text-anchor="middle" textLength="15.6" lengthAdjust="spacingAndGlyphs">E5</text>
<circle cx="733.2" cy="575.4" r="18.4" fill="#fff" stroke="#0d0d0d" stroke-width="1.7"/><text transform="translate(739.97 575.40) rotate(-90)" font-size="18.9" font-weight="bold" stroke="#E3222E" stroke-width="0.3" fill="#E3222E" text-anchor="middle" textLength="27.4" lengthAdjust="spacingAndGlyphs">E15</text>
<circle cx="733.2" cy="620.0" r="18.4" fill="#fff" stroke="#0d0d0d" stroke-width="1.7"/><text transform="translate(739.97 620.00) rotate(-90)" font-size="18.9" font-weight="bold" stroke="#2F7DBF" stroke-width="0.3" fill="#2F7DBF" text-anchor="middle" textLength="27.4" lengthAdjust="spacingAndGlyphs">E30</text>
<circle cx="793.8" cy="575.4" r="18.4" fill="#fff" stroke="#0d0d0d" stroke-width="1.7"/><text transform="translate(800.57 575.40) rotate(-90)" font-size="18.9" font-weight="bold" stroke="#E3222E" stroke-width="0.3" fill="#E3222E" text-anchor="middle" textLength="27.4" lengthAdjust="spacingAndGlyphs">E14</text>
<circle cx="793.8" cy="620.0" r="18.4" fill="#fff" stroke="#0d0d0d" stroke-width="1.7"/><text transform="translate(800.57 620.00) rotate(-90)" font-size="18.9" font-weight="bold" stroke="#2F7DBF" stroke-width="0.3" fill="#2F7DBF" text-anchor="middle" textLength="27.4" lengthAdjust="spacingAndGlyphs">E29</text>
<circle cx="840.8" cy="575.4" r="18.4" fill="#fff" stroke="#0d0d0d" stroke-width="1.7"/><text transform="translate(847.57 575.40) rotate(-90)" font-size="18.9" font-weight="bold" stroke="#E3222E" stroke-width="0.3" fill="#E3222E" text-anchor="middle" textLength="27.4" lengthAdjust="spacingAndGlyphs">E13</text>
<circle cx="840.8" cy="620.0" r="18.4" fill="#fff" stroke="#0d0d0d" stroke-width="1.7"/><text transform="translate(847.57 620.00) rotate(-90)" font-size="18.9" font-weight="bold" stroke="#2F7DBF" stroke-width="0.3" fill="#2F7DBF" text-anchor="middle" textLength="27.4" lengthAdjust="spacingAndGlyphs">E28</text>
<circle cx="887.6" cy="575.4" r="18.4" fill="#fff" stroke="#0d0d0d" stroke-width="1.7"/><text transform="translate(894.37 575.40) rotate(-90)" font-size="18.9" font-weight="bold" stroke="#E3222E" stroke-width="0.3" fill="#E3222E" text-anchor="middle" textLength="27.4" lengthAdjust="spacingAndGlyphs">E12</text>
<circle cx="887.6" cy="620.0" r="18.4" fill="#fff" stroke="#0d0d0d" stroke-width="1.7"/><text transform="translate(894.37 620.00) rotate(-90)" font-size="18.9" font-weight="bold" stroke="#2F7DBF" stroke-width="0.3" fill="#2F7DBF" text-anchor="middle" textLength="27.4" lengthAdjust="spacingAndGlyphs">E27</text>
<circle cx="934.4" cy="575.4" r="18.4" fill="#fff" stroke="#0d0d0d" stroke-width="1.7"/><text transform="translate(941.17 575.40) rotate(-90)" font-size="18.9" font-weight="bold" stroke="#E3222E" stroke-width="0.3" fill="#E3222E" text-anchor="middle" textLength="27.4" lengthAdjust="spacingAndGlyphs">E11</text>
<circle cx="934.4" cy="620.0" r="18.4" fill="#fff" stroke="#0d0d0d" stroke-width="1.7"/><text transform="translate(941.17 620.00) rotate(-90)" font-size="18.9" font-weight="bold" stroke="#2F7DBF" stroke-width="0.3" fill="#2F7DBF" text-anchor="middle" textLength="27.4" lengthAdjust="spacingAndGlyphs">E26</text>
<circle cx="1121.7" cy="288.5" r="12.7" fill="#EDF6FC" stroke="#0d0d0d" stroke-width="1.5"/><text transform="translate(1126.50 288.50) rotate(-90)" font-size="13.4" font-weight="normal" stroke="#4A94C8" stroke-width="0.45" fill="#4A94C8" text-anchor="middle" textLength="18.4" lengthAdjust="spacingAndGlyphs">E21</text>
<circle cx="1121.7" cy="319.4" r="12.7" fill="#FEF6F6" stroke="#0d0d0d" stroke-width="1.5"/><text transform="translate(1126.50 319.40) rotate(-90)" font-size="13.4" font-weight="normal" stroke="#DE3A48" stroke-width="0.45" fill="#DE3A48" text-anchor="middle" textLength="11.6" lengthAdjust="spacingAndGlyphs">E6</text>
<circle cx="1111.4" cy="364.2" r="12.7" fill="#FEF6F6" stroke="#0d0d0d" stroke-width="1.5"/><text transform="translate(1116.20 364.20) rotate(-90)" font-size="13.4" font-weight="normal" stroke="#DE3A48" stroke-width="0.45" fill="#DE3A48" text-anchor="middle" textLength="11.6" lengthAdjust="spacingAndGlyphs">E7</text>
<circle cx="1138.8" cy="364.6" r="12.7" fill="#EDF6FC" stroke="#0d0d0d" stroke-width="1.5"/><text transform="translate(1143.60 364.60) rotate(-90)" font-size="13.4" font-weight="normal" stroke="#4A94C8" stroke-width="0.45" fill="#4A94C8" text-anchor="middle" textLength="18.4" lengthAdjust="spacingAndGlyphs">E22</text>
<circle cx="1150.4" cy="337.2" r="12.7" fill="#F1F9F3" stroke="#0d0d0d" stroke-width="1.5"/><text transform="translate(1155.20 337.20) rotate(-90)" font-size="13.4" font-weight="normal" stroke="#3AA562" stroke-width="0.45" fill="#3AA562" text-anchor="middle" textLength="18.4" lengthAdjust="spacingAndGlyphs">E33</text>
<circle cx="1111.4" cy="410.4" r="12.7" fill="#FEF6F6" stroke="#0d0d0d" stroke-width="1.5"/><text transform="translate(1116.20 410.40) rotate(-90)" font-size="13.4" font-weight="normal" stroke="#DE3A48" stroke-width="0.45" fill="#DE3A48" text-anchor="middle" textLength="11.6" lengthAdjust="spacingAndGlyphs">E8</text>
<circle cx="1138.7" cy="410.4" r="12.7" fill="#EDF6FC" stroke="#0d0d0d" stroke-width="1.5"/><text transform="translate(1143.50 410.40) rotate(-90)" font-size="13.4" font-weight="normal" stroke="#4A94C8" stroke-width="0.45" fill="#4A94C8" text-anchor="middle" textLength="18.4" lengthAdjust="spacingAndGlyphs">E23</text>
<circle cx="1111.4" cy="455.0" r="12.7" fill="#FEF6F6" stroke="#0d0d0d" stroke-width="1.5"/><text transform="translate(1116.20 455.00) rotate(-90)" font-size="13.4" font-weight="normal" stroke="#DE3A48" stroke-width="0.45" fill="#DE3A48" text-anchor="middle" textLength="11.6" lengthAdjust="spacingAndGlyphs">E9</text>
<circle cx="1138.7" cy="455.0" r="12.7" fill="#EDF6FC" stroke="#0d0d0d" stroke-width="1.5"/><text transform="translate(1143.50 455.00) rotate(-90)" font-size="13.4" font-weight="normal" stroke="#4A94C8" stroke-width="0.45" fill="#4A94C8" text-anchor="middle" textLength="18.4" lengthAdjust="spacingAndGlyphs">E24</text>
<circle cx="1122.0" cy="496.7" r="12.7" fill="#EDF6FC" stroke="#0d0d0d" stroke-width="1.5"/><text transform="translate(1126.80 496.70) rotate(-90)" font-size="13.4" font-weight="normal" stroke="#4A94C8" stroke-width="0.45" fill="#4A94C8" text-anchor="middle" textLength="18.4" lengthAdjust="spacingAndGlyphs">E25</text>
<circle cx="1122.0" cy="528.0" r="12.7" fill="#FEF6F6" stroke="#0d0d0d" stroke-width="1.5"/><text transform="translate(1126.80 528.00) rotate(-90)" font-size="13.4" font-weight="normal" stroke="#DE3A48" stroke-width="0.45" fill="#DE3A48" text-anchor="middle" textLength="18.4" lengthAdjust="spacingAndGlyphs">E10</text>
<circle cx="1149.6" cy="483.0" r="12.7" fill="#F1F9F3" stroke="#0d0d0d" stroke-width="1.5"/><text transform="translate(1154.40 483.00) rotate(-90)" font-size="13.4" font-weight="normal" stroke="#3AA562" stroke-width="0.45" fill="#3AA562" text-anchor="middle" textLength="18.4" lengthAdjust="spacingAndGlyphs">E34</text>
<text x="113.40" y="32.20" font-size="14.6" font-weight="bold" fill="#111" text-anchor="start" textLength="155.30" lengthAdjust="spacingAndGlyphs" >FASE I (30 VIVIENDAS)</text>
<rect x="114.00" y="42.90" width="154.00" height="62.60" fill="#fff" stroke="#111" stroke-width="1.5" />
<rect x="121.00" y="48.50" width="16.30" height="15.20" fill="#2E75C5" />
<rect x="121.00" y="81.60" width="16.30" height="15.20" fill="#ED1C24" />
<text x="143.00" y="60.90" font-size="13.9" font-weight="bold" fill="#3A7FBE" text-anchor="start" textLength="118.30" lengthAdjust="spacingAndGlyphs" >ALTAS (015 -030)</text>
<text x="143.00" y="94.00" font-size="13.9" font-weight="bold" fill="#D3233A" text-anchor="start" textLength="111.80" lengthAdjust="spacingAndGlyphs" >BAJAS (01 -015)</text>
<rect x="681.40" y="13.90" width="308.30" height="66.80" fill="#fff" stroke="#111" stroke-width="1.5" />
<rect x="688.40" y="22.60" width="16.70" height="15.40" fill="#2E75C5" />
<rect x="688.40" y="55.50" width="16.70" height="15.20" fill="#ED1C24" />
<rect x="833.00" y="39.60" width="17.30" height="15.90" fill="#1E9A4A" />
<text x="714.00" y="35.30" font-size="14.8" font-weight="bold" fill="#3A7FBE" text-anchor="start" textLength="117.40" lengthAdjust="spacingAndGlyphs" >ALTAS (E15 -E30)</text>
<text x="714.00" y="67.80" font-size="14.8" font-weight="bold" fill="#D3233A" text-anchor="start" textLength="110.00" lengthAdjust="spacingAndGlyphs" >BAJAS (E1 -E15)</text>
<text x="858.40" y="53.60" font-size="14.8" font-weight="bold" fill="#2E9B57" text-anchor="start" textLength="127.80" lengthAdjust="spacingAndGlyphs" >ÁTICOS (E31 -E34)</text>
<text x="997.50" y="53.50" font-size="14.8" font-weight="bold" fill="#111" text-anchor="start" textLength="160.00" lengthAdjust="spacingAndGlyphs" >FASE II (34 VIVIENDAS)</text>
<text x="140.50" y="675.80" font-size="31.4" font-weight="bold" fill="#E3222E" text-anchor="start" textLength="92.50" lengthAdjust="spacingAndGlyphs" >FASE 1</text>
<text x="811.20" y="674.20" font-size="31.4" font-weight="bold" fill="#E3222E" text-anchor="start" textLength="96.40" lengthAdjust="spacingAndGlyphs" >FASE 2</text>
<text x="497.30" y="731.40" font-size="28" font-weight="bold" fill="#111" text-anchor="start" textLength="230.30" lengthAdjust="spacingAndGlyphs" >PLANO GENERAL</text>
<rect x="271.80" y="749.50" width="684.80" height="73.80" fill="#fff" stroke="#111" stroke-width="1.4" />
<text x="282.00" y="780.20" font-size="23.6" font-weight="bold" fill="#111" text-anchor="start" textLength="112.00" lengthAdjust="spacingAndGlyphs" >* PISCINA</text>
<text x="282.00" y="811.60" font-size="23.6" font-weight="bold" fill="#111" text-anchor="start" textLength="193.20" lengthAdjust="spacingAndGlyphs" >* PISTA DE PADEL</text>
<text x="497.30" y="782.60" font-size="23.6" font-weight="bold" fill="#111" text-anchor="start" textLength="280.10" lengthAdjust="spacingAndGlyphs" >* GARAJE SUBTERRÁNEO</text>
<text x="497.30" y="811.60" font-size="23.6" font-weight="bold" fill="#111" text-anchor="start" textLength="286.30" lengthAdjust="spacingAndGlyphs" >CON PARKING INCLUIDO</text>
<text x="805.40" y="811.60" font-size="23.6" font-weight="bold" fill="#111" text-anchor="start" textLength="143.20" lengthAdjust="spacingAndGlyphs" >* ASCENSOR</text>
<text transform="translate(1197.4 323.3) rotate(90)" font-size="31.6" font-weight="bold" fill="#111" textLength="204" lengthAdjust="spacingAndGlyphs">VISTAS AL MAR</text>
<circle cx="66.2" cy="809.3" r="37.6" fill="#fff" stroke="#111" stroke-width="1.5"/>
<rect x="63.30" y="772.00" width="6.30" height="38.60" fill="#111" />
<text x="66.60" y="766.00" font-size="22.6" font-weight="bold" fill="#111" text-anchor="middle" textLength="14.00" lengthAdjust="spacingAndGlyphs" >N</text>
<text x="6.70" y="818.00" font-size="23.6" font-weight="bold" fill="#111" text-anchor="start" textLength="16.00" lengthAdjust="spacingAndGlyphs" >O</text>
<text x="109.00" y="818.00" font-size="23.2" font-weight="bold" fill="#111" text-anchor="start" textLength="9.40" lengthAdjust="spacingAndGlyphs" >E</text>
<text x="67.00" y="870.00" font-size="23.4" font-weight="bold" fill="#111" text-anchor="middle" textLength="10.20" lengthAdjust="spacingAndGlyphs" >S</text>
</g>
</svg></body></html>
